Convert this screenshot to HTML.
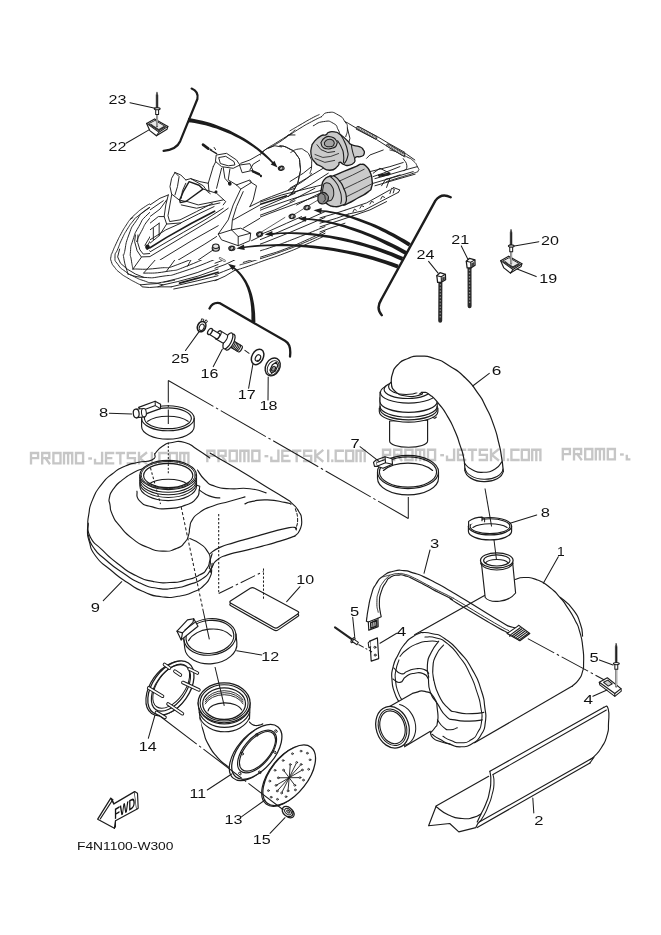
<!DOCTYPE html>
<html><head><meta charset="utf-8"><title>Exhaust diagram</title>
<style>
html,body{margin:0;padding:0;background:#fff;}
body{width:661px;height:935px;overflow:hidden;font-family:"Liberation Sans",sans-serif;}
svg{display:block;}
</style></head><body>
<svg width="661" height="935" viewBox="0 0 661 935"
 stroke="#1c1c1c" fill="none" stroke-linecap="round" stroke-linejoin="round">
<rect x="0" y="0" width="661" height="935" fill="#fff" stroke="none"/>
<clipPath id="notH"><path clip-rule="evenodd" d="M0,0H661V935H0Z M150,150H260V260H150Z"/></clipPath><clipPath id="inH"><rect x="150" y="150" width="110" height="110"/></clipPath>
<g clip-path="url(#notH)">
<g transform="translate(108,185) scale(0.16642)" ><path d="M362.0,68.0C348.0,73.7 350.7,72.7 320.0,85.0C289.3,97.3 305.0,88.3 270.0,105.0C235.0,121.7 250.0,111.7 215.0,135.0C180.0,158.3 191.7,151.7 165.0,175.0C138.3,198.3 153.3,183.3 135.0,205.0C116.7,226.7 128.3,211.7 110.0,240.0C91.7,268.3 100.0,253.3 80.0,290.0C60.0,326.7 67.3,313.3 50.0,350.0C32.7,386.7 38.7,373.3 28.0,400.0C17.3,426.7 20.7,410.0 18.0,430.0C15.3,450.0 12.7,438.3 20.0,460.0C27.3,481.7 21.7,471.7 40.0,495.0C58.3,518.3 48.3,508.3 75.0,530.0C101.7,551.7 90.0,541.7 120.0,560.0C150.0,578.3 140.0,571.7 165.0,585.0C190.0,598.3 185.0,595.0 195.0,600.0" stroke-width="5.71"/><path d="M195,600L205,612L250,616L300,612L332,600L300,592L240,596L195,600" stroke-width="5.71"/><path d="M345.0,85.0C320.0,97.3 325.0,88.0 270.0,122.0C215.0,156.0 220.0,155.3 180.0,187.0C140.0,218.7 171.7,190.3 150.0,217.0C128.3,243.7 136.7,232.0 115.0,267.0C93.3,302.0 103.3,283.7 85.0,322.0C66.7,360.3 74.3,345.3 60.0,382.0C45.7,418.7 42.0,400.0 42.0,432.0C42.0,464.0 39.0,448.7 60.0,478.0C81.0,507.3 71.7,495.3 105.0,520.0C138.3,544.7 123.3,533.7 160.0,552.0C196.7,570.3 178.3,563.0 215.0,575.0C251.7,587.0 230.0,585.3 270.0,588.0C310.0,590.7 291.7,588.3 335.0,583.0C378.3,577.7 378.3,575.7 400.0,572.0" stroke-width="5.71"/><path d="M150,195L135,205" stroke-width="5.71"/><path d="M70,385L58,432L75,470L115,505L165,535L215,555" stroke-width="5.71"/><path d="M330.0,95.0C296.7,113.3 283.3,110.0 230.0,150.0C176.7,190.0 205.0,165.0 170.0,215.0C135.0,265.0 148.3,238.3 125.0,300.0C101.7,361.7 110.0,353.3 100.0,400.0C90.0,446.7 88.3,395.0 95.0,440.0C101.7,485.0 111.7,503.3 120.0,535.0" stroke-width="5.71"/><path d="M335.0,105.0C303.3,128.3 290.0,126.7 240.0,175.0C190.0,223.3 215.0,198.3 185.0,250.0C155.0,301.7 166.7,280.0 150.0,330.0C133.3,380.0 138.3,360.0 135.0,400.0C131.7,440.0 135.0,415.0 140.0,450.0C145.0,485.0 146.7,486.7 150.0,505.0" stroke-width="5.71"/><path d="M330.0,120.0C303.3,146.7 293.3,146.7 250.0,200.0C206.7,253.3 226.0,233.3 200.0,280.0C174.0,326.7 181.3,320.0 172.0,340.0" stroke-width="5.71"/><path d="M165,300L160,340L175,395L200,432L330,428L420,425" stroke-width="5.71"/><path d="M180,300L178,345L192,390L212,415L330,405L350,398" stroke-width="5.71"/><path d="M200,435L150,505" stroke-width="5.71"/><path d="M300,432L215,528" stroke-width="5.71"/><path d="M418,428L350,520" stroke-width="5.71"/><path d="M510,430L478,488" stroke-width="5.71"/><path d="M150.0,505.0C200.0,503.3 203.3,511.7 300.0,500.0C396.7,488.3 319.7,515.0 440.0,470.0C560.3,425.0 587.3,400.0 661.0,365.0" stroke-width="5.71"/><path d="M215.0,530.0C260.0,526.7 261.7,535.0 350.0,520.0C438.3,505.0 376.3,525.0 480.0,485.0C583.7,445.0 600.7,428.3 661.0,400.0" stroke-width="5.71"/><path d="M120.0,535.0C151.7,541.7 145.0,550.7 215.0,555.0C285.0,559.3 251.7,559.7 330.0,548.0C408.3,536.3 339.7,556.0 450.0,520.0C560.3,484.0 590.7,466.7 661.0,440.0" stroke-width="5.71"/><path d="M335,583L420,562L540,525L661,478" stroke-width="5.71"/><path d="M332,600L420,580L540,548L661,505" stroke-width="5.71"/><path d="M430,590L540,560L661,524" stroke-width="10.22"/><path d="M380,612L430,600L540,575L661,545" stroke-width="5.71"/><path d="M300,612L380,612" stroke-width="5.71"/><path d="M395,625L520,600L661,568" stroke-width="5.71"/><path d="M235,385L300,345L430,275L540,215L600,180L640,160" stroke-width="10.82"/><path d="M250,395L330,352L450,290L560,232L661,180" stroke-width="5.71"/><path d="M330,428L450,362L560,305L661,255" stroke-width="5.71"/><path d="M420,425L520,372L661,300" stroke-width="5.71"/><path d="M222,362L262,295L290,250L330,195L340,150" stroke-width="5.71"/><path d="M238,362L275,300L300,262" stroke-width="5.71"/><path d="M268,290L300,300L345,285" stroke-width="5.71"/><path d="M285,262L315,272L348,258" stroke-width="5.71"/><path d="M315,225L318,272" stroke-width="5.71"/><path d="M300,235L302,282" stroke-width="5.71"/><path d="M340,150L338,190L350,215L400,210L440,195L475,185L560,160L661,128" stroke-width="5.71"/><path d="M350,226L400,221L440,206L480,192" stroke-width="9.61"/><path d="M350,238L440,218L560,180L661,148" stroke-width="5.71"/><path d="M380,0L365,50L355,75L362,68" stroke-width="5.71"/><path d="M400,5L375,80L365,140L440,100L520,40L560,10" stroke-width="5.71"/><path d="M420,40L400,100L440,105L520,55L580,20" stroke-width="5.71"/><path d="M365,140L350,215" stroke-width="5.71"/><path d="M440,105L430,150L520,120L600,85L661,60" stroke-width="5.71"/><path d="M375,160L440,185" stroke-width="5.71"/></g>
</g>
<circle cx="147.4" cy="246.9" r="2.3" fill="#1c1c1c" stroke="none"/>
<g clip-path="url(#notH)">
<g transform="translate(215,185) scale(0.16642)" ><path d="M0,575L60,548L115,515" stroke-width="5.71"/><path d="M0,540L50,520L100,500" stroke-width="5.71"/><path d="M115.0,515.0C143.3,506.0 138.3,509.0 200.0,488.0C261.7,467.0 226.7,478.0 300.0,452.0C373.3,426.0 340.0,440.7 420.0,410.0C500.0,379.3 459.7,395.0 540.0,360.0C620.3,325.0 620.7,323.3 661.0,305.0" stroke-width="5.71"/><path d="M150.0,480.0C183.3,470.0 166.7,476.7 250.0,450.0C333.3,423.3 303.3,435.0 400.0,400.0C496.7,365.0 453.0,381.7 540.0,345.0C627.0,308.3 620.7,308.3 661.0,290.0" stroke-width="5.71"/><path d="M170.0,465.0C213.3,451.7 216.7,451.7 300.0,425.0C383.3,398.3 340.0,415.0 420.0,385.0C500.0,355.0 459.7,370.7 540.0,335.0C620.3,299.3 620.7,297.0 661.0,278.0" stroke-width="5.71"/><path d="M130.0,440.0C170.0,427.3 176.7,425.3 250.0,402.0C323.3,378.7 273.3,396.7 350.0,370.0C426.7,343.3 376.3,362.0 480.0,322.0C583.7,282.0 600.7,274.0 661.0,250.0" stroke-width="5.71"/><path d="M0,500L60,478L130,445" stroke-width="5.71"/><path d="M0,470L40,455" stroke-width="5.71"/><path d="M130,0L80,230L15,295L30,330L130,350L215,320L215,280L150,255L100,260L95,235L150,40L165,0" stroke-width="5.71"/><path d="M15,295L100,260" stroke-width="5.71"/><path d="M130,350L130,300L100,260" stroke-width="5.71"/><path d="M215,280L130,300" stroke-width="5.71"/><path d="M225,0L205,120L175,190" stroke-width="5.71"/><path d="M245,0L225,110L200,165" stroke-width="5.71"/><path d="M245,125L330,98L430,65" stroke-width="9.01"/><path d="M250,110L400,60L560,20L661,-5" stroke-width="5.71"/><path d="M180,190L300,140L460,85L661,25" stroke-width="5.71"/><path d="M215,215L330,170L470,118L661,50" stroke-width="5.71"/><path d="M215,320L330,275L430,230L520,190" stroke-width="5.71"/><path d="M230,345L330,305L470,245L661,160" stroke-width="5.71"/><path d="M160,395L300,345L450,285L661,195" stroke-width="5.71"/><path d="M0,380L90,355" stroke-width="5.71"/><path d="M280,282L420,195" stroke-width="4.21"/><path d="M475,178L560,125" stroke-width="4.21"/><path d="M565,122L650,72" stroke-width="4.21"/><path d="M115,368L250,300" stroke-width="4.21"/><path d="M0,425L60,405L100,398" stroke-width="5.71"/><path d="M0,240L60,200L100,120L120,40" stroke-width="5.71"/><path d="M0,300L15,295" stroke-width="5.71"/></g>
</g>
<ellipse cx="259.1" cy="234.1" rx="2.6" ry="2.08" fill="#bdbdbd" stroke-width="1.03" transform="rotate(-25 259.1 234.1)"/>
<ellipse cx="260.0" cy="234.8" rx="2.6" ry="2.08" fill="none" stroke-width="0.92" transform="rotate(-25 259.1 234.1)"/>
<ellipse cx="231.3" cy="248.2" rx="2.6" ry="2.08" fill="#bdbdbd" stroke-width="1.03" transform="rotate(-25 231.3 248.2)"/>
<ellipse cx="232.2" cy="248.9" rx="2.6" ry="2.08" fill="none" stroke-width="0.92" transform="rotate(-25 231.3 248.2)"/>
<ellipse cx="291.6" cy="216.3" rx="2.6" ry="2.08" fill="#bdbdbd" stroke-width="1.03" transform="rotate(-25 291.6 216.3)"/>
<ellipse cx="292.5" cy="217.0" rx="2.6" ry="2.08" fill="none" stroke-width="0.92" transform="rotate(-25 291.6 216.3)"/>
<ellipse cx="306.5" cy="207.5" rx="2.6" ry="2.08" fill="#bdbdbd" stroke-width="1.03" transform="rotate(-25 306.5 207.5)"/>
<ellipse cx="307.4" cy="208.2" rx="2.6" ry="2.08" fill="none" stroke-width="0.92" transform="rotate(-25 306.5 207.5)"/>
<path d="M220.0,258.2l4.5,2.6" stroke-width="2.40" stroke="#555"/>
<path d="M220.0,258.2l4.5,2.6" stroke-width="1.26" stroke="#ddd"/>
<ellipse cx="215.8" cy="248.2" rx="3.6" ry="3" fill="#c4c4c4" stroke-width="1.15"/>
<ellipse cx="215.8" cy="246.2" rx="3.2" ry="2.2" fill="#e4e4e4" stroke-width="1.03"/>
<g transform="translate(320,150) scale(0.16642)" ><path d="M420.0,0.0C436.7,5.0 436.7,1.7 470.0,15.0C503.3,28.3 490.0,23.3 520.0,40.0C550.0,56.7 538.3,45.0 560.0,65.0C581.7,85.0 575.0,80.0 585.0,100.0C595.0,120.0 598.3,111.7 590.0,125.0C581.7,138.3 596.7,126.7 560.0,140.0C523.3,153.3 533.3,148.3 480.0,165.0C426.7,181.7 426.7,181.7 400.0,190.0" stroke-width="5.71"/><path d="M500.0,52.0C507.3,66.3 520.3,70.7 522.0,95.0C523.7,119.3 510.7,115.0 505.0,125.0" stroke-width="5.71"/><path d="M300,130L420,100L500,75" stroke-width="5.71"/><path d="M330,172L420,147L540,112L585,100" stroke-width="5.71"/><path d="M320,200L440,165L560,130" stroke-width="5.71"/><path d="M330,215L450,180L572,145" stroke-width="5.71"/><path d="M370,215L395,175L420,170L400,225" stroke-width="5.71"/><path d="M420,262L430,230L447,236L440,258" stroke-width="5.71"/><path d="M470,255L480,240L440,225" stroke-width="5.71"/><path d="M170,385L260,365L360,312L470,255" stroke-width="5.71"/><path d="M150,362L280,318L420,240" stroke-width="5.71"/><path d="M190,398L300,360L400,310" stroke-width="5.71"/><path d="M365,295L375,278L388,285" stroke-width="5.71"/><path d="M300,325L310,308L322,314" stroke-width="5.71"/><path d="M240,350L250,334L262,340" stroke-width="5.71"/><path d="M198,372L207,355L218,362" stroke-width="5.71"/><path d="M0,440L100,410L170,385" stroke-width="5.71"/><path d="M0,462L120,422L200,395" stroke-width="5.71"/><path d="M0,492L60,470L150,440" stroke-width="5.71"/><path d="M0,408L80,385L150,362" stroke-width="5.71"/><path d="M460,0L520,25L570,60" stroke-width="5.71"/><path d="M380,0L300,30L280,50" stroke-width="5.71"/><path d="M352,152L420,140" stroke-width="8.41"/><path d="M356,158L416,147" stroke-width="8.41"/></g>
<g clip-path="url(#notH)">
<g transform="translate(185,110) scale(0.16642)" ><path d="M108,208L140,232" stroke-width="15.62"/><path d="M150,235L190,260" stroke-width="7.21"/><path d="M190,255L240,245L300,285L330,310L320,340L260,350L200,330L175,290Z" stroke-width="5.71"/><path d="M205,275L245,265L295,300L300,325L255,330L210,312Z" stroke-width="5.71"/><path d="M325,340L380,330L395,370L340,385Z" stroke-width="5.71"/><path d="M398,372L455,396" stroke-width="15.62"/><path d="M160,250L175,290" stroke-width="5.71"/><path d="M175,225L195,255" stroke-width="5.71"/><path d="M185,330L215,400" stroke-width="5.71"/><path d="M230,345L245,400" stroke-width="5.71"/><path d="M205,335L165,380L130,500" stroke-width="5.71"/><path d="M262,352L275,440" stroke-width="5.71"/><path d="M290,345L320,430" stroke-width="5.71"/><path d="M0,420L100,375L170,365" stroke-width="5.71"/><path d="M0,440L60,420L110,440L135,500" stroke-width="5.71"/><path d="M160,370L200,400L260,405L290,440L330,470L420,430" stroke-width="5.71"/><path d="M330,470L300,560L260,661" stroke-width="5.71"/><path d="M420,430L400,560L380,661" stroke-width="5.71"/><path d="M300,440L330,420L400,420" stroke-width="5.71"/><path d="M0,540L100,500L140,500L260,430" stroke-width="5.71"/><path d="M0,600L60,570L160,520L280,440" stroke-width="5.71"/><path d="M100,661L180,600L260,540L300,560" stroke-width="5.71"/><path d="M0,480L40,470L90,500L60,570" stroke-width="5.71"/><path d="M30,661L120,590L200,540" stroke-width="5.71"/><path d="M345,480L320,570L290,661" stroke-width="5.71"/><path d="M440.0,300.0C450.0,283.3 440.0,278.3 470.0,250.0C500.0,221.7 486.7,241.7 530.0,215.0C573.3,188.3 556.3,201.7 600.0,170.0C643.7,138.3 640.7,136.7 661.0,120.0" stroke-width="5.71"/><path d="M330.0,325.0C353.3,316.7 350.0,328.3 400.0,300.0C450.0,271.7 426.7,276.7 480.0,240.0C533.3,203.3 506.7,223.3 560.0,190.0C613.3,156.7 613.3,156.7 640.0,140.0" stroke-width="5.71"/><path d="M571.0,215.0C587.7,220.0 587.7,211.7 621.0,230.0C654.3,248.3 647.7,236.7 671.0,270.0C694.3,303.3 686.0,286.7 691.0,330.0C696.0,373.3 696.0,353.3 686.0,400.0C676.0,446.7 682.7,430.0 661.0,470.0C639.3,510.0 634.3,503.3 621.0,520.0" stroke-width="5.71"/><path d="M500,228L540,215L580,222" stroke-width="5.71"/><path d="M420,560L520,520L600,490L661,470" stroke-width="5.71"/><path d="M380,620L500,570L661,500" stroke-width="5.71"/><path d="M430,640L540,600L661,545" stroke-width="5.71"/><path d="M440,300L420,360L425,430" stroke-width="5.71"/><path d="M600,170L620,150L661,150" stroke-width="5.71"/></g>
</g>
<ellipse cx="280.7" cy="168.2" rx="2.4" ry="1.92" fill="#bdbdbd" stroke-width="1.03" transform="rotate(-25 280.7 168.2)"/>
<ellipse cx="281.6" cy="168.9" rx="2.4" ry="1.92" fill="none" stroke-width="0.92" transform="rotate(-25 280.7 168.2)"/>
<circle cx="215.8" cy="192.0" r="1.3" fill="#1c1c1c" stroke="none"/>
<circle cx="229.6" cy="183.2" r="1.6" fill="#1c1c1c" stroke="none"/>
<g transform="translate(290,95) scale(0.16642)" ><path d="M190.0,130.0C203.3,121.7 196.7,108.3 230.0,105.0C263.3,101.7 256.7,101.7 290.0,120.0C323.3,138.3 311.7,133.3 330.0,160.0C348.3,186.7 343.3,170.0 345.0,200.0C346.7,230.0 338.3,233.3 335.0,250.0" stroke-width="5.71"/><path d="M140.0,185.0C160.0,176.7 160.0,165.0 200.0,160.0C240.0,155.0 230.0,153.3 260.0,170.0C290.0,186.7 276.7,186.7 290.0,210.0C303.3,233.3 296.7,230.0 300.0,240.0" stroke-width="5.71"/><path d="M0.0,240.0C20.0,226.7 16.7,226.7 60.0,200.0C103.3,173.3 86.7,183.3 130.0,160.0C173.3,136.7 170.0,140.0 190.0,130.0" stroke-width="5.71"/><path d="M0.0,215.0C20.0,203.3 16.7,205.0 60.0,180.0C103.3,155.0 91.7,160.7 130.0,140.0C168.3,119.3 160.0,125.3 175.0,118.0" stroke-width="5.71"/><path d="M-60.0,305.0C-43.3,310.0 -43.3,301.7 -10.0,320.0C23.3,338.3 16.7,326.7 40.0,360.0C63.3,393.3 55.0,376.7 60.0,420.0C65.0,463.3 65.0,443.3 55.0,490.0C45.0,536.7 51.7,520.0 30.0,560.0C8.3,600.0 3.3,593.3 -10.0,610.0" stroke-width="5.71"/><path d="M5.0,345.0C20.0,338.3 21.7,328.3 50.0,325.0C78.3,321.7 66.7,320.0 90.0,335.0C113.3,350.0 106.7,341.7 120.0,370.0C133.3,398.3 130.0,386.7 130.0,420.0C130.0,453.3 123.3,453.3 120.0,470.0" stroke-width="5.71"/><path d="M-10.0,570.0C23.3,550.0 43.3,543.3 90.0,510.0C136.7,476.7 116.7,483.3 130.0,470.0" stroke-width="5.71"/><path d="M330,160L350,170L400,200" stroke-width="5.71"/><path d="M398,205L520,268L590,312L690,372" stroke-width="5.71"/><path d="M412,190L525,250L595,292L690,345" stroke-width="5.71"/><path d="M661,430L560,470L500,490" stroke-width="5.71"/><path d="M661,480L600,500" stroke-width="5.71"/><path d="M0,560L100,500L200,440" stroke-width="5.71"/><path d="M0,600L120,540L230,470" stroke-width="5.71"/><path d="M0,640L150,560" stroke-width="5.71"/><path d="M0,520L80,470L130,430" stroke-width="5.71"/><path d="M40,661L180,590" stroke-width="5.71"/><path d="M345,200L360,260L350,300" stroke-width="5.71"/><path d="M500,470L540,440L600,470" stroke-width="5.71"/></g>
<path d="M357.9,127.8L375.7,137.6" stroke="#2a2a2a" stroke-width="3.50" stroke-linecap="round"/>
<path d="M357.9,127.8L375.7,137.6" stroke="#d8d8d8" stroke-width="1.70" stroke-linecap="round"/>
<path d="M357.9,127.8L375.7,137.6" stroke="#444" stroke-width="1.70" stroke-dasharray="0.7 1.1" stroke-linecap="butt"/>
<path d="M387.9,145.3L403.5,154.6" stroke="#2a2a2a" stroke-width="3.50" stroke-linecap="round"/>
<path d="M387.9,145.3L403.5,154.6" stroke="#d8d8d8" stroke-width="1.70" stroke-linecap="round"/>
<path d="M387.9,145.3L403.5,154.6" stroke="#444" stroke-width="1.70" stroke-dasharray="0.7 1.1" stroke-linecap="butt"/>
<g clip-path="url(#inH)">
<g transform="translate(150,150) scale(0.16642)" ><path d="M150,135L130,170L120,220L130,265" stroke-width="5.71"/><path d="M150,135L185,150L215,180" stroke-width="5.71"/><path d="M150,135L175,160L165,220L150,270" stroke-width="5.71"/><path d="M215,180L245,172L320,215L345,250L362,262" stroke-width="5.71"/><path d="M130,265L175,300L215,310" stroke-width="5.71"/><path d="M235,190L295,212L318,235L218,308L182,316L178,300L200,250Z" stroke-width="8.41"/><path d="M215,200L195,245L188,290" stroke-width="5.71"/><path d="M110,270L95,330L85,400L100,445L185,438L290,385L385,340" stroke-width="5.71"/><path d="M130,270L108,395L118,430L180,420L280,370L375,320" stroke-width="5.71"/><path d="M218,308L290,330L440,300" stroke-width="5.71"/><path d="M320,235L400,260L455,310L440,330" stroke-width="5.71"/><path d="M188,330L280,350L420,318" stroke-width="5.71"/><path d="M0,330L60,290L110,270" stroke-width="5.71"/><path d="M0,360L80,305" stroke-width="5.71"/><path d="M0,400L60,355L100,300" stroke-width="5.71"/><path d="M0,440L50,400L85,400" stroke-width="5.71"/><path d="M20,470L20,540" stroke-width="5.71"/><path d="M55,440L55,515" stroke-width="5.71"/><path d="M0,480L55,440" stroke-width="5.71"/><path d="M0,560L55,515L100,445" stroke-width="5.71"/><path d="M0,540L95,480L185,440" stroke-width="5.71"/><path d="M0,588L100,525L250,440L388,368" stroke-width="10.22"/><path d="M0,612L200,495L330,420L440,350" stroke-width="5.71"/><path d="M0,640L200,520L400,400L470,350" stroke-width="5.71"/><path d="M60,661L250,545L410,455" stroke-width="5.71"/><path d="M170,661L330,565L400,520" stroke-width="5.71"/><path d="M290,661L380,600" stroke-width="5.71"/><path d="M520,210L545,235L500,330L470,420L410,505L430,540L530,575L600,545L605,500L545,470L490,480L410,505" stroke-width="5.71"/><path d="M545,235L610,195L600,180L520,210" stroke-width="5.71"/><path d="M600,190L640,215L620,300L600,340" stroke-width="5.71"/><path d="M490,480L530,520L530,575" stroke-width="5.71"/><path d="M530,520L605,500" stroke-width="5.71"/><path d="M560,250L520,340L495,420L490,480" stroke-width="5.71"/><path d="M600,340L661,310" stroke-width="5.71"/><path d="M500,420L661,330" stroke-width="5.71"/><path d="M560,470L661,410" stroke-width="5.71"/><path d="M610,545L661,520" stroke-width="5.71"/><path d="M400,30L460,20L520,60L540,90L500,110L430,100L395,70Z" stroke-width="5.71"/><path d="M415,45L455,38L505,70L510,90L470,95L425,82Z" stroke-width="5.71"/><path d="M380,100L350,200L355,250" stroke-width="5.71"/><path d="M430,110L400,230" stroke-width="5.71"/><path d="M395,70L380,100" stroke-width="5.71"/><path d="M480,115L470,180L520,210" stroke-width="5.71"/><path d="M440,105L450,170L480,205" stroke-width="5.71"/><path d="M540,90L600,82L618,122L556,136Z" stroke-width="5.71"/><path d="M618,128L661,148" stroke-width="14.42"/><path d="M350,-8L400,22" stroke-width="7.81"/><path d="M350,200L300,190L245,172" stroke-width="5.71"/><path d="M661,25L600,60L545,80" stroke-width="5.71"/><path d="M661,60L620,85L600,120" stroke-width="5.71"/></g>
</g>
<circle cx="216.1" cy="191.9" r="1.4" fill="#1c1c1c" stroke="none"/>
<circle cx="229.9" cy="184.1" r="1.7" fill="#1c1c1c" stroke="none"/>
<g transform="translate(315,125) scale(0.09833)" ><path d="M0.0,160.0C20.0,143.3 23.3,130.0 60.0,110.0C96.7,90.0 83.3,111.7 110.0,100.0C136.7,88.3 110.0,85.0 140.0,75.0C170.0,65.0 160.0,61.7 200.0,70.0C240.0,78.3 216.7,70.0 260.0,100.0C303.3,130.0 293.3,126.7 330.0,160.0C366.7,193.3 330.0,180.0 370.0,200.0C410.0,220.0 410.0,203.3 450.0,220.0C490.0,236.7 473.3,226.7 490.0,250.0C506.7,273.3 506.7,266.7 500.0,290.0C493.3,313.3 500.0,306.7 470.0,320.0C440.0,333.3 433.3,310.0 410.0,330.0C386.7,350.0 423.3,353.3 400.0,380.0C376.7,406.7 376.7,403.3 340.0,410.0C303.3,416.7 320.0,410.0 290.0,400.0C260.0,390.0 270.0,373.3 250.0,380.0C230.0,386.7 263.3,393.3 230.0,420.0C196.7,446.7 206.7,460.0 150.0,460.0C93.3,460.0 110.0,446.7 60.0,420.0C10.0,393.3 33.3,420.0 0.0,380.0C-33.3,340.0 -30.0,360.0 -40.0,300.0C-50.0,240.0 -33.3,233.3 -30.0,200.0Z" stroke-width="13.22" fill="#cacaca"/><path d="M60.0,180.0C73.3,163.3 66.7,150.0 100.0,130.0C133.3,110.0 123.3,113.3 160.0,120.0C196.7,126.7 190.0,123.3 210.0,150.0C230.0,176.7 230.0,171.7 220.0,200.0C210.0,228.3 216.7,221.7 180.0,235.0C143.3,248.3 146.7,246.7 110.0,240.0C73.3,233.3 83.3,223.3 70.0,215.0Z" stroke-width="11.19" fill="#b9b9b9"/><path d="M95.0,180.0C105.0,170.0 101.7,160.7 125.0,150.0C148.3,139.3 142.7,141.3 165.0,148.0C187.3,154.7 183.7,152.0 192.0,170.0C200.3,188.0 200.7,185.3 190.0,202.0C179.3,218.7 183.3,214.7 160.0,220.0C136.7,225.3 140.7,224.0 120.0,218.0C99.3,212.0 105.3,207.3 98.0,202.0Z" stroke-width="10.17" fill="#a4a4a4"/><path d="M20,200L60,250L130,280L200,270" stroke-width="9.15"/><path d="M260.0,100.0C273.3,123.3 276.7,116.7 300.0,170.0C323.3,223.3 320.0,206.7 330.0,260.0C340.0,313.3 340.0,286.7 330.0,330.0C320.0,373.3 310.0,370.0 300.0,390.0" stroke-width="11.19"/><path d="M230.0,160.0C243.3,183.3 250.0,183.3 270.0,230.0C290.0,276.7 283.3,250.0 290.0,300.0C296.7,350.0 290.0,353.3 290.0,380.0" stroke-width="11.19"/><path d="M370.0,200.0C373.3,220.0 370.0,216.7 380.0,260.0C390.0,303.3 393.3,306.7 400.0,330.0" stroke-width="10.17"/><path d="M0,300L80,330L160,320L240,290" stroke-width="8.14"/><path d="M0,340L100,380L200,360" stroke-width="8.14"/><path d="M70.0,620.0C76.7,600.0 63.3,593.3 90.0,560.0C116.7,526.7 116.7,535.0 150.0,520.0C183.3,505.0 140.0,531.7 190.0,515.0C240.0,498.3 223.3,501.7 300.0,470.0C376.7,438.3 363.3,443.3 420.0,420.0C476.7,396.7 436.7,400.0 470.0,400.0C503.3,400.0 490.0,393.3 520.0,420.0C550.0,446.7 540.0,433.3 560.0,480.0C580.0,526.7 575.0,510.0 580.0,560.0C585.0,610.0 588.3,590.0 575.0,630.0C561.7,670.0 585.0,643.3 540.0,680.0C495.0,716.7 510.0,700.0 440.0,740.0C370.0,780.0 383.3,775.0 330.0,800.0C276.7,825.0 323.3,805.0 280.0,815.0C236.7,825.0 253.3,835.0 200.0,830.0C146.7,825.0 161.7,830.0 120.0,800.0C78.3,770.0 95.0,780.0 75.0,740.0C55.0,700.0 65.0,700.0 60.0,680.0Z" stroke-width="14.24" fill="#cacaca"/><path d="M190.0,515.0C210.0,533.3 215.0,525.0 250.0,570.0C285.0,615.0 272.3,596.7 295.0,650.0C317.7,703.3 312.3,683.3 318.0,730.0C323.7,776.7 321.3,762.7 312.0,790.0C302.7,817.3 297.3,804.7 290.0,812.0" stroke-width="12.20"/><path d="M150.0,520.0C170.0,540.0 176.7,533.3 210.0,580.0C243.3,626.7 230.7,606.7 250.0,660.0C269.3,713.3 264.0,693.3 268.0,740.0C272.0,786.7 264.0,780.0 262.0,800.0" stroke-width="10.17"/><path d="M250,570L380,510L500,450" stroke-width="8.14"/><path d="M295,650L430,585L565,520" stroke-width="8.14"/><path d="M318,730L440,670L575,600" stroke-width="8.14"/><path d="M90.0,600.0C103.3,596.7 103.3,583.3 130.0,590.0C156.7,596.7 150.0,590.0 170.0,620.0C190.0,650.0 186.7,640.0 190.0,680.0C193.3,720.0 193.3,710.0 180.0,740.0C166.7,770.0 173.3,763.3 150.0,770.0C126.7,776.7 131.7,776.7 110.0,760.0C88.3,743.3 95.7,753.3 85.0,720.0C74.3,686.7 80.3,680.0 78.0,660.0Z" stroke-width="10.17" fill="#b4b4b4"/><path d="M30.0,720.0C43.3,710.0 40.0,695.0 70.0,690.0C100.0,685.0 98.3,685.0 120.0,705.0C141.7,725.0 138.3,721.7 135.0,750.0C131.7,778.3 135.0,773.3 110.0,790.0C85.0,806.7 86.7,806.7 60.0,800.0C33.3,793.3 40.0,780.0 30.0,770.0Z" stroke-width="12.20" fill="#8c8c8c"/><path d="M75,700L100,715L105,760L85,785" stroke-width="9.15"/></g>
<g transform="translate(0,0)"><path d="M146.6,123.4L154.6,118.9L167.9,126.4L167,129.3L156.4,135.8L149.8,130.6Z" fill="#fff" stroke-width="1.15"/><path d="M146.6,123.4L158.9,132.2L167.9,126.4M158.9,132.2L156.4,135.8" stroke-width="1.03"/><path d="M148.9,123.6L155,120.4L165.7,126.6L159.2,130.6Z" fill="#e9e9e9" stroke-width="0.92"/><path d="M151,124.6L153.8,126.8L158.8,129.9L164.2,126.8" stroke-width="1.60" stroke="#333"/><path d="M157.05,114L157.05,126.2" stroke-width="2.00" stroke="#333"/><path d="M157.05,114L157.05,126.0" stroke-width="0.92" stroke="#fff"/><path d="M157.05,92.3L157.9,95.5L157.9,107.8L156.2,107.8L156.2,95.5Z" fill="#222" stroke-width="0.57"/><rect x="155.7" y="109" width="2.9" height="5.4" fill="#fff" stroke-width="1.03"/><ellipse cx="157.2" cy="108.7" rx="2.9" ry="1.1" fill="#fff" stroke-width="1.15"/></g>
<g transform="translate(354.05,137.3)"><path d="M146.6,123.4L154.6,118.9L167.9,126.4L167,129.3L156.4,135.8L149.8,130.6Z" fill="#fff" stroke-width="1.15"/><path d="M146.6,123.4L158.9,132.2L167.9,126.4M158.9,132.2L156.4,135.8" stroke-width="1.03"/><path d="M148.9,123.6L155,120.4L165.7,126.6L159.2,130.6Z" fill="#e9e9e9" stroke-width="0.92"/><path d="M151,124.6L153.8,126.8L158.8,129.9L164.2,126.8" stroke-width="1.60" stroke="#333"/><path d="M157.05,114L157.05,126.2" stroke-width="2.00" stroke="#333"/><path d="M157.05,114L157.05,126.0" stroke-width="0.92" stroke="#fff"/><path d="M157.05,92.3L157.9,95.5L157.9,107.8L156.2,107.8L156.2,95.5Z" fill="#222" stroke-width="0.57"/><rect x="155.7" y="109" width="2.9" height="5.4" fill="#fff" stroke-width="1.03"/><ellipse cx="157.2" cy="108.7" rx="2.9" ry="1.1" fill="#fff" stroke-width="1.15"/></g>
<path d="M440.4,283L440.2,320.8" stroke="#2a2a2a" stroke-width="4.00" stroke-linecap="round"/>
<path d="M440.4,284L440.2,318.8" stroke="#8a8a8a" stroke-width="1.26" stroke-dasharray="1.5 1.7" stroke-linecap="butt"/>
<path d="M436.8,275.7L440.0,272.7L445.40000000000003,274.3L445.6,279.7L441.40000000000003,282.3L437.6,282.3Z" fill="#fff" stroke-width="1.26"/>
<path d="M436.8,275.7L441.2,276.7L445.40000000000003,274.3M441.2,276.7L441.40000000000003,282.3" stroke-width="1.03"/>
<path d="M442.40000000000003,277.7L444.40000000000003,276.9L444.40000000000003,279.7L442.40000000000003,280.7Z" fill="#444" stroke-width="0.57"/>
<path d="M469.5,268.5L469.6,306.2" stroke="#2a2a2a" stroke-width="4.00" stroke-linecap="round"/>
<path d="M469.5,269.5L469.6,304.2" stroke="#8a8a8a" stroke-width="1.26" stroke-dasharray="1.5 1.7" stroke-linecap="butt"/>
<path d="M466.3,261.3L469.5,258.3L474.90000000000003,259.90000000000003L475.1,265.3L470.90000000000003,267.90000000000003L467.1,267.90000000000003Z" fill="#fff" stroke-width="1.26"/>
<path d="M466.3,261.3L470.7,262.3L474.90000000000003,259.90000000000003M470.7,262.3L470.90000000000003,267.90000000000003" stroke-width="1.03"/>
<path d="M471.90000000000003,263.3L473.90000000000003,262.5L473.90000000000003,265.3L471.90000000000003,266.3Z" fill="#444" stroke-width="0.57"/>
<ellipse cx="201.6" cy="326.6" rx="4" ry="5.3" transform="rotate(25 201.6 326.6)" fill="#fff" stroke-width="1.60"/>
<ellipse cx="202.0" cy="327.2" rx="2.3" ry="3.3" transform="rotate(25 201.6 326.6)" fill="#fff" stroke-width="1.03"/>
<path d="M201.1,321.1l0.5,-2.3l2.2,0.6l-0.3,2M204.6,322.0l1.3,-2.2l1.6,1.2l-1.2,2" stroke-width="0.92"/>
<path d="M228.46,345.94L238.32,351.87A1.47,3.50 31 0 0 241.93,345.87L232.07,339.94A1.47,3.50 31 0 0 228.46,345.94Z" fill="#fff" stroke-width="1.15"/>
<path d="M231.43,347.61A1.5,3.5 31 0 0 234.93,341.78" stroke-width="1.03"/>
<path d="M232.80,348.43A1.5,3.5 31 0 0 236.30,342.60" stroke-width="1.03"/>
<path d="M234.17,349.26A1.5,3.5 31 0 0 237.67,343.43" stroke-width="1.03"/>
<path d="M235.54,350.08A1.5,3.5 31 0 0 239.05,344.25" stroke-width="1.03"/>
<path d="M236.91,350.90A1.5,3.5 31 0 0 240.42,345.08" stroke-width="1.03"/>
<ellipse cx="230.1" cy="342.2" rx="3.4" ry="8.8" transform="rotate(27 230.1 342.2)" fill="#fff" stroke-width="1.26"/>
<ellipse cx="227.9" cy="340.9" rx="3.4" ry="8.8" transform="rotate(27 227.9 340.9)" fill="#fff" stroke-width="1.26"/>
<path d="M215.91,338.90L222.34,342.76A1.93,4.60 31 0 0 227.08,334.87L220.65,331.01A1.93,4.60 31 0 0 215.91,338.90Z" fill="#fff" stroke-width="1.15"/>
<ellipse cx="218.28" cy="334.96" rx="1.93" ry="4.60" transform="rotate(31 218.28 334.96)" fill="#fff" stroke-width="1.15"/>
<path d="M208.80,334.11L216.52,338.75A1.22,2.90 31 0 0 219.50,333.78L211.79,329.14A1.22,2.90 31 0 0 208.80,334.11Z" fill="#fff" stroke-width="1.15"/>
<ellipse cx="210.30" cy="331.63" rx="1.22" ry="2.90" transform="rotate(31 210.30 331.63)" fill="#fff" stroke-width="1.15"/>
<ellipse cx="209.96" cy="331.46" rx="1.9" ry="3.4" transform="rotate(31 209.96 331.46)" fill="#fff" stroke-width="1.26"/>
<path d="M244.9,350.3L249.1,353.3" stroke-width="1.03" />
<ellipse cx="257.6" cy="356.9" rx="5.6" ry="8.2" transform="rotate(28 257.6 356.9)" fill="#fff" stroke-width="1.49"/>
<ellipse cx="258.4" cy="357.7" rx="2.4" ry="3.5" transform="rotate(28 257.6 356.9)" fill="#fff" stroke-width="1.15"/>
<path d="M257.0,360.5q2.6,0.8 3.6,-1.4" stroke-width="0.92"/>
<ellipse cx="272.7" cy="366.9" rx="7" ry="9.4" transform="rotate(28 272.7 366.9)" fill="#fff" stroke-width="1.38"/>
<ellipse cx="273.5" cy="367.5" rx="5.4" ry="7.6" transform="rotate(28 272.7 366.9)" fill="#fff" stroke-width="0.92"/>
<path d="M275.4,371.0L271.6,373.3L270.0,370.1L272.4,364.7L276.2,362.3L277.8,365.5Z" fill="#fff" stroke-width="1.26"/>
<ellipse cx="274.3" cy="368.1" rx="1.7" ry="2.6" transform="rotate(28 272.7 366.9)" fill="#999" stroke-width="1.03"/>
<path d="M141.6,418.3A26.3,12.5 0 0 1 194.20000000000002,418.3L194.20000000000002,426.6A26.3,12.5 0 0 1 141.6,426.6Z" fill="#fff" stroke-width="1.15"/>
<path d="M141.6,418.3A26.3,12.5 0 0 0 194.20000000000002,418.3" stroke-width="1.15"/>
<ellipse cx="167.9" cy="418.3" rx="23.5" ry="10.4" fill="#fff" stroke-width="1.15"/>
<path d="M147.7,421.3A23.5,10.4 0 0 1 188.1,421.3" stroke-width="1.15"/>
<path d="M138.6,407.4L155.1,401.2L160.6,404.2L160.4,408.6L144.4,414.4Z" fill="#fff" stroke-width="1.15"/>
<path d="M155.1,401.2L155.3,405.6L144.2,409.8M155.3,405.6L160.4,408.6" stroke-width="1.03"/>
<path d="M136,409.4L143.6,408.6L144.4,417L136.4,417.8Z" fill="#fff" stroke="none"/>
<path d="M136,409.3L143.8,408.5M136.4,417.8L144.4,416.9" stroke-width="1.15"/>
<ellipse cx="143.9" cy="412.7" rx="2.4" ry="4.2" fill="#fff" stroke-width="1.03" transform="rotate(-6 143.9 412.7)"/>
<ellipse cx="136.2" cy="413.5" rx="2.9" ry="4.3" fill="#fff" stroke-width="1.26" transform="rotate(-6 136.2 413.5)"/>
<path d="M154.9,453.7C157.4,451.2 156.6,449.9 162.4,446.2C168.2,442.5 164.9,443.7 172.4,442.5C179.9,441.3 176.5,440.2 184.8,442.5C193.1,444.8 189.0,444.3 197.3,449.5C205.6,454.7 205.6,455.2 209.8,458.0" stroke-width="1.15" fill="none" />
<path d="M154.9,453.7C153.9,455.8 157.7,457.1 151.9,460.0C146.1,462.9 146.4,460.4 137.4,462.5C128.4,464.6 133.2,462.5 124.9,466.2C116.6,469.9 120.4,467.5 112.5,473.7C104.6,479.9 107.9,476.2 101.2,484.9C94.5,493.6 96.7,489.9 92.5,499.9C88.3,509.9 90.3,506.2 88.7,514.9C87.1,523.6 88.1,519.9 87.7,526.1C87.3,532.3 87.6,531.1 87.5,533.6" stroke-width="1.15" fill="none" />
<path d="M210.0,453.0C212.5,454.5 206.6,451.2 217.4,457.5C228.2,463.8 225.7,462.0 242.4,472.0C259.1,482.0 253.3,478.9 267.4,487.5C281.5,496.1 276.5,492.5 284.8,497.9C293.1,503.3 287.7,499.3 292.3,503.7C296.9,508.1 295.5,505.8 298.6,511.2C301.7,516.6 301.2,513.7 301.6,519.9C302.0,526.1 302.1,524.5 299.8,529.9C297.5,535.3 296.5,534.0 294.8,536.1" stroke-width="1.15" fill="none" />
<path d="M294.8,536.1C289.8,537.8 290.7,537.8 279.9,541.1C269.1,544.4 274.9,542.8 262.4,546.1C249.9,549.4 254.1,548.2 242.4,551.1C230.7,554.0 235.7,552.0 227.4,554.9C219.1,557.8 222.4,556.1 217.4,559.8C212.4,563.5 214.9,561.9 212.5,566.1C210.1,570.3 211.0,570.2 210.2,572.3" stroke-width="1.15" fill="none" />
<path d="M295.3,508.7C296.1,512.3 297.5,512.7 297.6,519.4C297.7,526.1 296.3,525.7 295.6,528.9" stroke-width="1.03" fill="none" stroke-dasharray="3 2"/>
<path d="M88.2,523.2C88.9,527.8 85.7,528.1 90.3,536.9C94.9,545.7 92.4,540.5 101.9,549.7C111.4,558.9 107.6,555.9 118.9,564.5C130.2,573.1 124.5,569.9 135.8,575.5C147.1,581.1 141.5,579.1 152.8,581.4C164.1,583.7 159.1,582.8 169.7,582.5C180.3,582.2 174.7,582.9 184.6,580.4C194.5,577.9 192.0,579.0 199.4,575.1C206.8,571.2 203.3,573.6 206.8,568.7C210.3,563.8 208.2,565.2 210.0,560.3C211.8,555.4 211.4,556.0 212.1,553.9" stroke-width="1.15" fill="none" />
<path d="M88.2,534.8C90.0,539.0 87.5,539.0 93.5,547.5C99.5,556.0 96.3,551.8 106.2,560.3C116.1,568.8 111.8,565.4 123.1,573.0C134.4,580.6 128.8,578.0 140.1,583.1C151.4,588.2 145.7,586.5 157.0,588.2C168.3,589.9 163.4,589.4 174.0,588.2C184.6,587.0 179.6,587.6 188.8,584.6C198.0,581.6 194.4,583.9 201.5,579.3C208.6,574.7 206.5,576.1 210.0,570.8C213.5,565.5 211.4,565.9 212.1,563.4" stroke-width="1.15" fill="none" />
<path d="M87.5,532.7C88.1,535.5 86.5,533.4 89.2,541.2C91.9,549.0 88.5,546.5 95.6,556.0C102.7,565.5 99.8,561.0 110.4,569.8C121.0,578.6 116.1,575.1 127.4,582.5C138.7,589.9 133.0,587.3 144.3,592.0C155.6,596.7 150.0,595.3 161.3,596.7C172.6,598.1 167.6,597.9 178.2,596.3C188.8,594.7 184.6,595.5 193.1,592.0C201.6,588.5 198.0,590.6 203.6,585.7C209.2,580.8 207.3,582.5 210.0,577.2C212.7,571.9 211.1,572.3 211.7,569.8" stroke-width="1.15" fill="none" />
<path d="M142.4,468.7C139.5,470.0 140.4,468.8 133.7,472.5C127.0,476.2 129.1,474.5 122.4,479.9C115.7,485.3 118.0,482.9 113.7,488.7C109.4,494.5 110.7,492.0 109.5,497.4C108.3,502.8 109.0,499.1 110.0,504.9C111.0,510.7 109.2,507.8 112.5,514.9C115.8,522.0 113.3,518.2 119.9,526.1C126.5,534.0 123.2,531.5 132.4,538.6C141.6,545.7 137.4,543.1 147.4,547.3C157.4,551.5 152.8,550.7 162.4,551.1C172.0,551.5 168.6,551.5 176.1,548.6C183.6,545.7 180.6,546.9 184.8,542.3C189.0,537.7 186.9,539.9 188.6,534.9C190.3,529.9 188.6,532.4 189.8,527.4C191.0,522.4 189.0,524.9 192.3,519.9C195.6,514.9 193.1,517.0 199.8,512.4C206.5,507.8 202.3,509.9 212.3,506.2C222.3,502.5 218.9,504.3 229.8,501.2C240.7,498.1 239.9,498.3 245.0,496.9" stroke-width="1.15" fill="none" />
<path d="M244.9,503.9C247.4,503.1 244.9,502.7 252.4,501.4C259.9,500.1 256.6,499.6 267.4,499.9C278.2,500.2 276.9,501.0 284.8,502.4C292.7,503.8 289.0,503.6 291.1,504.2" stroke-width="1.15" fill="none" />
<path d="M197.5,470.0C200.0,473.3 199.2,474.6 205.0,480.0C210.8,485.4 206.6,483.3 214.9,486.2C223.2,489.1 218.2,487.9 229.9,488.7C241.6,489.5 237.8,487.3 249.9,488.7C262.0,490.1 260.7,491.5 266.1,492.9" stroke-width="1.15" fill="none" />
<path d="M210.0,553.6C213.3,551.5 211.6,551.1 219.9,547.4C228.2,543.7 224.1,545.7 234.9,542.4C245.7,539.1 240.7,540.7 252.4,537.4C264.1,534.1 259.1,535.3 269.9,532.4C280.7,529.5 276.7,530.3 284.8,528.6C292.9,526.9 290.5,527.0 294.3,527.4C298.1,527.8 295.6,529.1 296.3,529.9" stroke-width="1.15" fill="none" />
<path d="M189.8,538.6C193.1,540.3 194.0,539.4 199.8,543.6C205.6,547.8 203.8,545.7 207.3,551.1C210.8,556.5 209.6,554.0 210.3,559.8C211.0,565.6 209.6,565.7 209.3,568.6" stroke-width="1.15" fill="none" />
<path d="M136.9,491.2C137.9,494.5 134.7,496.0 139.9,501.2C145.1,506.4 143.2,504.4 152.4,506.9C161.6,509.4 156.6,509.1 167.4,508.6C178.2,508.1 175.2,508.7 184.8,505.4C194.4,502.1 191.3,503.9 196.1,498.7C200.9,493.5 198.2,492.8 199.3,489.9" stroke-width="1.15" fill="none" />
<path d="M199.3,489.9C201.1,491.2 200.5,491.4 204.8,493.7C209.1,496.0 207.3,495.5 212.3,496.9C217.3,498.3 217.3,497.6 219.8,497.9" stroke-width="1.15" fill="none" />
<path d="M139.89999999999998,475A28.3,14.6 0 0 1 196.5,475L196.5,486A28.3,14.6 0 0 1 139.89999999999998,486Z" fill="#fff" stroke-width="1.15"/>
<path d="M139.89999999999998,475A28.3,14.6 0 0 0 196.5,475" stroke-width="1.15"/>
<path d="M139.89999999999998,477.6A28.3,14.6 0 0 0 196.5,477.6" stroke-width="1.03"/>
<path d="M139.89999999999998,480.2A28.3,14.6 0 0 0 196.5,480.2" stroke-width="1.03"/>
<path d="M139.89999999999998,482.8A28.3,14.6 0 0 0 196.5,482.8" stroke-width="1.03"/>
<ellipse cx="168.2" cy="475" rx="27.0" ry="13.6" stroke-width="0.92"/>
<ellipse cx="168.2" cy="475.5" rx="24.6" ry="12.2" fill="#fff" stroke-width="1.15"/>
<path d="M148.8,484.2A22.6,10.2 0 0 1 187.6,484.2" stroke-width="1.15"/>
<path d="M196.1,484.9L199.8,486.2L199.3,489.9" stroke-width="1.03" fill="none" />
<path d="M230.9,605.8Q228.7,604.6 230.8,603.3L250.3,590.9Q252.4,589.6 254.6,590.8L297.6,613.9Q299.8,615.1 297.7,616.5L278.2,629.9Q276.1,631.3 273.9,630.1Z" fill="#fff" stroke-width="1.15"/>
<path d="M230.9,603.2Q228.7,602.0 230.8,600.7L250.3,588.3Q252.4,587.0 254.6,588.2L297.6,611.3Q299.8,612.5 297.7,613.9L278.2,627.3Q276.1,628.7 273.9,627.5Z" fill="#fff" stroke-width="1.15"/>
<g transform="rotate(-6 209.9 636.9)"><path d="M183.70000000000002,636.9A26.2,18.2 0 0 1 236.1,636.9L236.1,645.6A26.2,18.2 0 0 1 183.70000000000002,645.6Z" fill="#fff" stroke-width="1.15"/><path d="M183.70000000000002,636.9A26.2,18.2 0 0 0 236.1,636.9" stroke-width="1.15"/><ellipse cx="209.9" cy="636.9" rx="24.0" ry="16.439999999999998" fill="#fff" stroke-width="1.15"/><path d="M188.3,638.4A24.0,16.439999999999998 0 0 1 231.5,638.4" stroke-width="1.15"/></g>
<path d="M177.0,631.2L187.5,619.9L193.7,618.7L198.0,626.2L188.7,633.7L181.2,639.9Z" stroke-width="1.15" fill="#fff" />
<path d="M177.0,631.2L182.5,632.9L193.0,622.4L193.7,618.7" stroke-width="1.15" fill="none" />
<path d="M182.5,632.9L181.2,639.9" stroke-width="1.15" fill="none" />
<path d="M185.0,629.9L195.0,622.4" stroke-width="1.03" fill="none" />
<path d="M389.6,421L389.6,441A19,6.3 0 0 0 427.6,441L427.6,420Z" fill="#fff" stroke-width="1.15"/>
<path d="M379.3,411.5A29.3,10.6 0 0 0 437.90000000000003,411.5L437.90000000000003,408L379.3,408Z" fill="#fff" stroke-width="1.15"/>
<path d="M380.0,398L380.0,409A28.6,10.8 0 0 0 437.20000000000005,409L437.20000000000005,400A28.6,10.8 0 0 0 380.0,398Z" fill="#fff" stroke-width="1.15"/>
<path d="M380.0,406.3A28.6,10.8 0 0 0 437.2,406.3" fill="none" stroke-width="1.15"/>
<path d="M380.0,392L380.0,401.5A28.6,10.8 0 0 0 437.20000000000005,401.5L437.20000000000005,396Z" fill="#fff" stroke-width="1.15"/>
<ellipse cx="408.6" cy="392.5" rx="28.2" ry="10.6" fill="#fff" stroke-width="1.15"/>
<ellipse cx="407.6" cy="389.5" rx="23.5" ry="9" fill="#fff" stroke-width="1.15"/>
<ellipse cx="406.1" cy="386.5" rx="17.5" ry="8" fill="#fff" stroke-width="1.15"/>
<path d="M432.6,417.2l2.2,1.2l1.6,-1.4" stroke-width="1.03"/>
<path d="M391.2,382.4C391.6,379.5 390.4,379.5 392.5,373.7C394.6,367.9 392.5,370.0 397.5,365.0C402.5,360.0 399.9,361.6 407.4,358.7C414.9,355.8 410.7,356.2 419.9,356.2C429.1,356.2 424.9,355.4 434.9,358.7C444.9,362.0 439.9,359.9 449.9,366.2C459.9,372.5 455.8,368.8 464.9,377.5C474.0,386.2 470.2,382.4 477.3,392.4C484.4,402.4 480.7,396.6 486.1,407.4C491.5,418.2 489.4,413.2 493.6,424.9C497.8,436.6 495.9,431.6 498.6,442.4C501.3,453.2 500.0,447.7 501.6,457.3C503.2,466.9 502.7,466.6 503.3,471.3L464.9,468.6" fill="none" stroke="none"/>
<path d="M391.2,382.4C391.6,379.5 390.4,379.5 392.5,373.7C394.6,367.9 392.5,370.0 397.5,365.0C402.5,360.0 399.9,361.6 407.4,358.7C414.9,355.8 410.7,356.2 419.9,356.2C429.1,356.2 424.9,355.4 434.9,358.7C444.9,362.0 439.9,359.9 449.9,366.2C459.9,372.5 455.8,368.8 464.9,377.5C474.0,386.2 470.2,382.4 477.3,392.4C484.4,402.4 480.7,396.6 486.1,407.4C491.5,418.2 489.4,413.2 493.6,424.9C497.8,436.6 495.9,431.6 498.6,442.4C501.3,453.2 500.0,447.7 501.6,457.3C503.2,466.9 502.7,466.6 503.3,471.3L464.9,470.1C464.5,465.8 465.3,465.7 463.6,457.3C461.9,448.9 462.8,453.6 459.9,444.9C457.0,436.2 459.1,440.7 454.9,431.1C450.7,421.5 452.8,425.2 447.4,416.1C442.0,407.0 444.4,410.8 438.6,403.7C432.8,396.6 434.9,398.7 429.9,394.9C424.9,391.1 427.0,392.8 423.7,392.4C420.4,392.0 421.2,393.3 419.9,393.7L391.2,382.4Z" fill="#fff" stroke="none"/>
<path d="M391.2,382.4C391.6,379.5 390.4,379.5 392.5,373.7C394.6,367.9 392.5,370.0 397.5,365.0C402.5,360.0 399.9,361.6 407.4,358.7C414.9,355.8 410.7,356.2 419.9,356.2C429.1,356.2 424.9,355.4 434.9,358.7C444.9,362.0 439.9,359.9 449.9,366.2C459.9,372.5 455.8,368.8 464.9,377.5C474.0,386.2 470.2,382.4 477.3,392.4C484.4,402.4 480.7,396.6 486.1,407.4C491.5,418.2 489.4,413.2 493.6,424.9C497.8,436.6 495.9,431.6 498.6,442.4C501.3,453.2 500.0,447.7 501.6,457.3C503.2,466.9 502.7,466.6 503.3,471.3" stroke-width="1.21"/>
<path d="M464.9,470.1C464.5,465.8 465.3,465.7 463.6,457.3C461.9,448.9 462.8,453.6 459.9,444.9C457.0,436.2 459.1,440.7 454.9,431.1C450.7,421.5 452.8,425.2 447.4,416.1C442.0,407.0 444.4,410.8 438.6,403.7C432.8,396.6 434.9,398.7 429.9,394.9C424.9,391.1 427.0,392.8 423.7,392.4C420.4,392.0 421.2,393.3 419.9,393.7" stroke-width="1.21"/>
<path d="M391.2,382.4C392.5,385.3 389.6,386.6 395.0,391.2C400.4,395.8 399.1,395.0 407.4,396.2C415.7,397.4 415.1,396.2 419.9,394.9C424.7,393.6 421.2,393.1 421.9,392.2" stroke-width="1.15" fill="none" />
<path d="M464.4,463.3C467.0,465.5 465.9,466.8 472.3,469.8C478.7,472.8 476.1,472.5 483.6,472.3C491.1,472.1 488.7,472.8 494.8,469.3C500.9,465.8 499.5,464.3 501.8,461.8" stroke-width="1.15" fill="none" />
<path d="M464.8,470A19.3,12 2 0 0 503.3,471" stroke-width="1.21"/>
<path d="M465.1,468.2A19,11.4 2 0 0 503,469" stroke-width="1.03"/>
<path d="M377.5,472A30.5,16.6 0 0 1 438.5,472L438.5,478.2A30.5,16.6 0 0 1 377.5,478.2Z" fill="#fff" stroke-width="1.15"/>
<path d="M377.5,472A30.5,16.6 0 0 0 438.5,472" stroke-width="1.15"/>
<ellipse cx="408" cy="472" rx="28.6" ry="15.175" fill="#fff" stroke-width="1.15"/>
<path d="M383.4,470.5A28.6,15.175 0 0 1 432.6,470.5" stroke-width="1.15"/>
<path d="M375.5,460.3L385.0,456.8L392.0,458.8L392.5,464.3L383.0,468.3L377.0,466.3Z" stroke-width="1.15" fill="#fff" />
<path d="M385.0,456.8L385.5,462.8L392.5,464.3" stroke-width="1.15" fill="none" />
<path d="M385.5,462.8L377.0,466.3" stroke-width="1.15" fill="none" />
<path d="M375.5,460.3L373.5,462.3L374.5,466.3L377.0,466.3" stroke-width="1.15" fill="#fff" />
<path d="M377.5,462.3L384.5,459.8" stroke-width="1.03" fill="none" />
<path d="M468.4,526.2A21.6,8.7 0 0 1 511.6,526.2L511.6,531.2A21.6,8.7 0 0 1 468.4,531.2Z" fill="#fff" stroke-width="1.15"/>
<path d="M468.4,526.2A21.6,8.7 0 0 0 511.6,526.2" stroke-width="1.15"/>
<ellipse cx="490" cy="526.2" rx="19.900000000000002" ry="7.424999999999999" fill="#fff" stroke-width="1.15"/>
<path d="M472.9,527.4A19.900000000000002,7.424999999999999 0 0 1 507.1,527.4" stroke-width="1.15"/>
<path d="M468.6,524.8l0,-3.4q6,-4.2 13.4,-4.2l0,3.6" fill="#fff" stroke-width="1.15"/>
<path d="M482,517.2l2.6,1.2l0,3.4" stroke-width="1.03"/>
<path d="M414.6,634.8L484.5,595.4" stroke-width="1.15" fill="none" />
<path d="M514.9,579.5C518.2,578.8 517.4,577.3 524.9,577.5C532.4,577.7 529.1,576.7 537.4,580.0C545.7,583.3 542.4,581.7 549.9,587.5C557.4,593.3 554.1,590.8 559.9,597.4C565.7,604.0 562.4,599.9 567.4,607.4C572.4,614.9 570.7,611.6 574.9,619.9C579.1,628.2 577.3,623.2 579.9,632.4C582.5,641.6 581.6,637.4 582.8,647.4C584.0,657.4 583.8,654.0 583.6,662.3C583.4,670.6 584.0,666.5 582.3,672.3C580.6,678.1 581.9,675.2 578.6,679.8C575.3,684.4 574.5,684.0 572.4,686.1" stroke-width="1.15" fill="none" />
<path d="M572.4,686.1L474.6,742.8" stroke-width="1.15"/>
<path d="M560.4,597.4C564.6,601.4 566.3,600.6 572.9,609.4C579.5,618.2 577.1,614.8 580.3,623.7C583.5,632.6 581.8,632.0 582.6,636.1" stroke-width="1.15" fill="none" />
<path d="M481.3,562L485.2,597.5C490,603.5 508,603 515.6,593L512.6,562Z" fill="#fff" stroke-width="1.15"/>
<ellipse cx="496.8" cy="560.4" rx="16.3" ry="7.6" fill="#fff" stroke-width="1.26"/>
<path d="M480.6,563.2A16.3,7.6 0 0 0 513,563.2" stroke-width="1.03"/>
<ellipse cx="496.8" cy="560.4" rx="13.2" ry="5.6" stroke-width="1.15"/>
<path d="M485.5,562.8A12,5 0 0 1 508,562.6" stroke-width="1.03"/>
<path d="M421.2,632.5C424.9,632.9 424.5,631.6 432.4,633.7C440.3,635.8 435.7,632.4 444.9,638.7C454.1,645.0 450.7,642.1 459.9,652.5C469.1,662.9 465.3,657.4 472.4,669.9C479.5,682.4 477.0,677.4 481.1,689.9C485.2,702.4 483.4,696.6 484.8,707.4C486.2,718.2 486.5,713.2 485.3,722.3C484.1,731.4 485.4,727.7 481.1,734.8C476.8,741.9 479.1,739.6 472.4,743.6C465.7,747.6 468.6,746.6 461.1,746.8C453.6,747.0 457.0,746.6 449.9,744.1C442.8,741.6 445.9,742.6 439.9,739.3C433.9,736.0 434.6,736.0 431.9,734.3" stroke-width="1.15" fill="none" />
<path d="M424.9,637.0C428.7,637.3 428.7,635.8 436.2,638.0C443.7,640.2 439.7,637.5 447.4,643.7C455.1,649.9 452.1,647.0 459.4,656.7C466.7,666.4 463.6,661.3 469.4,672.9C475.2,684.5 473.0,680.1 476.8,691.6C480.6,703.1 479.2,697.6 480.8,707.4C482.4,717.2 482.6,712.8 481.6,721.1C480.6,729.4 481.3,726.1 477.8,732.3C474.3,738.5 476.7,736.3 471.1,739.8C465.5,743.3 467.8,742.5 461.1,742.8C454.4,743.1 457.2,742.8 451.1,740.6C445.0,738.4 445.6,737.7 442.9,736.3" stroke-width="1.03" fill="none" />
<path d="M421.2,632.5C418.3,634.0 417.8,633.3 412.4,637.0C407.0,640.7 409.8,637.7 405.0,643.7C400.2,649.7 402.0,647.0 398.0,654.9C394.0,662.8 395.0,659.1 393.0,667.4C391.0,675.7 391.5,671.6 392.0,679.9C392.5,688.2 392.2,685.1 394.5,692.4C396.8,699.7 397.5,698.7 399.0,701.9" stroke-width="1.15" fill="none" />
<path d="M399.0,659.9C398.0,663.2 397.2,663.1 396.0,669.9C394.8,676.7 394.8,672.9 395.5,680.4C396.2,687.9 396.0,685.9 398.2,692.4C400.4,698.9 400.7,697.4 402.0,699.9" stroke-width="1.03" fill="none" />
<path d="M393.7,667.9C396.2,669.8 396.6,672.6 401.2,673.7C405.8,674.8 402.5,672.9 407.5,671.2C412.5,669.5 410.4,669.1 416.2,668.7C422.0,668.3 420.7,668.2 424.9,669.9C429.1,671.6 427.4,672.4 428.7,673.7" stroke-width="1.15" fill="none" />
<path d="M393.0,678.9C395.3,680.1 395.6,683.2 400.0,682.4C404.4,681.6 401.2,679.5 406.2,676.4C411.2,673.3 409.1,674.0 414.9,673.2C420.7,672.4 419.2,672.0 423.7,673.9C428.2,675.8 426.8,677.2 428.4,678.9" stroke-width="1.15" fill="none" />
<path d="M438.7,641.2C436.2,645.0 435.0,644.6 431.2,652.5C427.4,660.4 428.2,656.6 427.4,664.9C426.6,673.2 428.3,673.2 428.7,677.4" stroke-width="1.15" fill="none" />
<path d="M443.6,645.0C441.1,648.3 439.8,647.4 436.2,654.9C432.6,662.4 433.7,659.1 432.9,667.4C432.1,675.7 433.4,675.7 433.7,679.9" stroke-width="1.15" fill="none" />
<path d="M433.7,679.9C435.4,684.9 434.1,685.7 438.7,694.9C443.3,704.1 441.2,701.6 447.4,707.4C453.6,713.2 449.1,710.3 457.4,712.4C465.7,714.5 463.6,713.6 472.4,713.6C481.2,713.6 480.0,712.8 483.8,712.4" stroke-width="1.15" fill="none" />
<path d="M428.4,678.9C429.1,683.4 427.4,684.2 430.4,692.4C433.4,700.6 432.2,695.7 437.4,703.6C442.6,711.5 440.3,710.7 446.1,716.1C451.9,721.5 447.0,718.2 454.9,719.9C462.8,721.6 460.8,721.1 469.9,721.1C479.0,721.1 478.2,720.3 482.3,719.9" stroke-width="1.15" fill="none" />
<path d="M400.0,656.4C402.3,654.1 401.2,653.7 407.0,649.5C412.8,645.3 410.2,646.5 417.4,643.7C424.6,640.9 422.0,641.9 428.7,641.2C435.4,640.5 434.5,641.4 437.4,641.5" stroke-width="1.03" fill="none" />
<path d="M416.2,692.4C419.1,692.1 419.0,689.7 424.9,691.4C430.8,693.1 429.7,691.2 433.9,697.4C438.1,703.6 436.2,701.6 437.4,709.9C438.6,718.2 438.2,716.3 437.4,722.3C436.6,728.3 437.2,724.3 434.9,727.8C432.6,731.3 431.9,731.1 430.4,732.8" stroke-width="1.15" fill="none" />
<path d="M437.4,719.9C439.5,722.4 439.4,724.0 443.6,727.3C447.8,730.6 445.3,729.6 449.9,729.8C454.5,730.0 454.9,728.5 457.4,727.8" stroke-width="1.03" fill="none" />
<path d="M430.4,732.8C431.2,734.5 429.9,735.0 432.9,737.8C435.9,740.6 433.7,739.2 439.4,741.3C445.1,743.4 446.4,743.2 449.9,744.1" stroke-width="1.15" fill="none" />
<path d="M388.7,706.9L416.2,692.4L430.4,731.3L404.5,746.8Z" fill="#fff" stroke="none"/>
<path d="M388.7,706.9L412.4,693.4L416.2,692.4" stroke-width="1.15" fill="none" />
<path d="M404.5,746.8L430.4,731.3" stroke-width="1.15" fill="none" />
<ellipse cx="392.5" cy="727.3" rx="16.3" ry="21.2" transform="rotate(-18 392.5 727.3)" fill="#fff" stroke-width="1.26"/>
<ellipse cx="392.5" cy="727.3" rx="13.8" ry="18.6" transform="rotate(-18 392.5 727.3)" fill="#fff" stroke-width="1.03"/>
<ellipse cx="392.5" cy="727.3" rx="12.2" ry="16.8" transform="rotate(-18 392.5 727.3)" fill="#fff" stroke-width="1.15"/>
<path d="M397.0,705.8A16.3,21.2 -18 0 1 401.5,746.7" stroke-width="1.03" transform="translate(2.6,-1.3)"/>
<path d="M366.8,618.2C367.3,614.9 366.8,616.2 368.3,608.4C369.8,600.6 368.8,602.9 371.3,594.8C373.8,586.7 371.9,590.5 375.9,584.2C379.9,577.9 377.6,580.2 383.4,575.9C389.2,571.6 386.5,573.1 393.3,571.3C400.1,569.5 397.3,570.1 403.9,570.6C410.5,571.1 406.5,570.9 413.0,572.9C419.5,574.9 416.0,573.3 423.5,576.6C431.0,579.9 427.5,578.4 435.6,582.7C443.7,587.0 437.8,583.7 447.7,589.5C457.6,595.3 449.2,590.2 465.4,600.0C481.6,609.8 480.6,609.9 496.3,619.0C512.0,628.1 505.1,625.1 512.6,627.2C520.1,629.3 516.8,626.0 518.9,625.4" stroke-width="1.15"/>
<path d="M380.4,613.0C380.1,609.5 379.1,609.5 379.4,602.4C379.7,595.3 379.1,598.4 381.2,591.8C383.3,585.2 382.7,587.5 385.7,582.7C388.7,577.9 386.3,579.9 390.3,577.4C394.3,574.9 392.8,575.6 397.8,575.1C402.8,574.6 399.8,574.4 405.4,575.9C411.0,577.4 407.4,576.3 414.5,579.7C421.6,583.1 418.5,581.7 426.6,586.0C434.7,590.3 430.6,588.3 438.7,592.5C446.8,596.7 444.9,595.2 450.8,598.6C456.7,602.0 442.4,594.1 456.3,602.7C470.2,611.3 475.7,614.5 492.6,624.5C509.5,634.5 501.3,628.7 507.1,632.6C512.9,636.5 509.0,635.1 509.9,636.3" stroke-width="1.15"/>
<path d="M382.7,576.9C385.2,576.3 385.3,576.1 390.3,575.0C395.3,573.9 392.8,573.8 397.8,573.6C402.8,573.4 399.8,573.0 405.4,574.5C411.0,576.0 407.4,574.9 414.5,578.2C421.6,581.5 418.5,580.3 426.6,584.5C434.7,588.7 430.6,586.8 438.7,590.9C446.8,595.0 443.4,593.0 450.8,596.9C458.2,600.8 446.3,594.1 460.8,602.7C475.3,611.3 478.5,613.5 494.4,622.8C510.3,632.1 503.9,628.0 508.6,630.6" stroke-width="0.92"/>
<path d="M378.2,612.2C377.8,608.9 376.7,609.5 376.9,602.4C377.1,595.3 376.7,597.8 378.9,591.0C381.1,584.2 379.9,586.9 383.4,581.9C386.9,576.9 387.5,577.9 389.5,575.9" stroke-width="0.92"/>
<path d="M366.8,618.2L366.4,621.3L368.3,622.0L368.8,630.3L378.2,626.6L377.9,618.2L381.2,616.7L380.4,613.0" stroke-width="1.15" fill="#fff" />
<path d="M370.6,622.8L376.6,620.2L376.9,625.8L370.9,628.4Z" stroke-width="1.38" fill="#e4e4e4" />
<path d="M372.7,622.0L373.0,627.5" stroke-width="1.03" fill="none" />
<path d="M374.8,621.1L375.1,626.6" stroke-width="1.03" fill="none" />
<path d="M368.3,622.0L377.9,618.2" stroke-width="1.03" fill="none" />
<path d="M507.1,633.5L518.9,625.4L529.8,633.5L519.9,640.8Z" stroke-width="1.15" fill="#fff" />
<path d="M510.8,634.6L520.2,627.7" stroke-width="1.15" fill="none" />
<path d="M512.4,635.7L521.9,628.8" stroke-width="1.15" fill="none" />
<path d="M514.0,636.8L523.5,629.9" stroke-width="1.15" fill="none" />
<path d="M515.7,637.9L525.1,631.0" stroke-width="1.15" fill="none" />
<path d="M517.3,639.0L526.8,632.1" stroke-width="1.15" fill="none" />
<path d="M518.9,640.1L528.4,633.2" stroke-width="1.15" fill="none" />
<path d="M369.9,641.1L377.4,637.9L378.7,658.6L371.2,661.1Z" stroke-width="1.15" fill="#fff" />
<path d="M369.9,641.1L368.2,642.9L368.9,647.8L370.7,646.8" stroke-width="1.03" fill="#fff" />
<circle cx="374.9" cy="647.3" r="1" stroke-width="0.92"/>
<circle cx="375.2" cy="655.1" r="1" stroke-width="0.92"/>
<path d="M335.0,627.4L352.0,639.4" stroke-width="2.10" stroke="#222"/>
<ellipse cx="353.0" cy="640.1" rx="1.2" ry="3" transform="rotate(35 353.0 640.1)" fill="#fff" stroke-width="1.15"/>
<path d="M353.8,639.1l4.6,3.2l-1.4,2.4l-4.8,-3.2z" fill="#fff" stroke-width="1.03"/>
<path d="M599.3,682.3L607.3,677.8L621.0,688.6L614.8,693.5Z" stroke-width="1.15" fill="#fff" />
<path d="M599.3,682.3L599.8,684.8L614.8,696.3L614.8,693.5" stroke-width="1.03" fill="none" />
<path d="M614.8,696.3L621.3,691.1L621.0,688.6" stroke-width="1.03" fill="none" />
<path d="M603.6,682.3L607.8,680.1L612.3,683.8L608.3,686.1Z" stroke-width="1.03" fill="#ccc" />
<g transform="translate(459.15,554.9)"><path d="M157.05,114L157.05,131.5" stroke-width="2.00" stroke="#333"/><path d="M157.05,114L157.05,131.3" stroke-width="0.92" stroke="#fff"/><path d="M157.05,88.6L157.9,92L157.9,107.8L156.2,107.8L156.2,92Z" fill="#222" stroke-width="0.57"/><rect x="155.7" y="109" width="2.9" height="5.4" fill="#fff" stroke-width="1.03"/><ellipse cx="157.2" cy="108.7" rx="2.9" ry="1.1" fill="#fff" stroke-width="1.15"/></g>
<path d="M489.9,771.3L604.0,707.2" stroke-width="1.15"/>
<path d="M493.0,774.5L606.4,710.0" stroke-width="1.03"/>
<path d="M604.0,707.2C605.4,707.7 606.7,703.4 608.2,708.8C609.7,714.2 608.9,714.4 608.5,723.3C608.1,732.2 609.3,727.3 607.0,735.4C604.7,743.5 605.8,740.4 601.5,747.5C597.2,754.6 597.8,752.6 594.0,756.6C590.2,760.6 591.3,758.6 590.0,759.6" stroke-width="1.15" fill="none" />
<path d="M592.5,758.1L479.2,822.1" stroke-width="1.15"/>
<path d="M590.0,762.9L477.2,827.6" stroke-width="1.15"/>
<path d="M594.0,757.2L591.9,760.2L590.0,762.9" stroke-width="1.03" fill="none" />
<path d="M489.9,771.3C490.2,774.5 491.0,773.8 490.8,780.8C490.6,787.8 491.0,784.6 489.4,792.2C487.8,799.8 488.9,796.1 486.0,803.5C483.1,810.9 483.7,808.2 480.8,814.4C477.9,820.6 478.4,819.5 477.2,822.1" stroke-width="1.15" fill="none" />
<path d="M493.0,774.5C493.3,777.4 494.3,776.4 494.0,783.1C493.7,789.8 494.0,786.9 492.1,794.5C490.2,802.1 491.3,798.4 488.3,805.8C485.3,813.2 486.4,811.0 483.1,816.7C479.8,822.4 480.0,820.9 478.5,823.0" stroke-width="1.03" fill="none" />
<path d="M436.1,806.0L488.7,776.3" stroke-width="1.15" fill="none" />
<path d="M436.1,806.7C440.3,809.4 439.9,811.0 448.6,814.9C457.3,818.8 453.9,817.7 462.2,818.5C470.5,819.3 467.3,818.9 473.5,817.4C479.7,815.9 478.4,815.1 480.8,814.0" stroke-width="1.15" fill="none" />
<path d="M436.1,806.3L428.6,825.8L449.7,823.5L458.8,831.9L475.8,827.6L478.1,823.0" stroke-width="1.15" fill="none" />
<path d="M201.2,721.1C202.0,724.9 201.2,724.5 203.7,732.4C206.2,740.3 204.0,736.6 208.6,744.9C213.2,753.2 211.1,750.2 217.4,757.3C223.7,764.4 222.2,761.8 227.4,766.1C232.6,770.4 231.1,768.9 232.9,770.3" stroke-width="1.15" fill="none" />
<path d="M249.3,721.9C250.7,723.0 250.3,724.0 253.6,725.1C256.9,726.2 256.2,725.5 259.3,725.1C262.4,724.7 261.6,724.3 262.8,723.9" stroke-width="1.15" fill="none" />
<path d="M198.1,702.9L201.1,720.9A23,17 0 0 0 249.1,720.9L250.1,702.9Z" fill="#fff" stroke="none"/>
<path d="M198.7,707.4A26,20 0 0 0 249.9,707.4" stroke-width="1.03"/>
<path d="M199.3,712.4A26,20 0 0 0 249.6,712.4" stroke-width="1.15"/>
<path d="M199.9,717.9A26,20 0 0 0 249.4,717.9" stroke-width="1.15"/>
<path d="M198.1,702.9L200.3,719.9M250.1,702.9L249.5,718.9" stroke-width="1.15"/>
<ellipse cx="224.1" cy="702.9" rx="26" ry="20" fill="#fff" stroke-width="1.26"/>
<ellipse cx="224.1" cy="702.9" rx="24" ry="18.2" stroke-width="1.03"/>
<ellipse cx="224.1" cy="703.7" rx="21.4" ry="15.8" stroke-width="1.26"/>
<path d="M205.2,699.9A20.4,14.6 0 0 1 243.1,699.9" stroke-width="0.92"/>
<path d="M205.2,701.9A20.4,14.6 0 0 1 243.1,701.9" stroke-width="0.92"/>
<path d="M205.2,703.9A20.4,14.6 0 0 1 243.1,703.9" stroke-width="0.92"/>
<path d="M208.1,710.9A17,9 0 0 1 241.6,709.9" stroke-width="1.15"/>
<ellipse cx="254.4" cy="753.2" rx="32.7" ry="17.6" transform="rotate(-49.6 254.4 753.2)" fill="#fff" stroke-width="1.15"/>
<ellipse cx="256.8" cy="751.8" rx="32.7" ry="17.6" transform="rotate(-49.6 256.8 751.8)" fill="#fff" stroke-width="1.26"/>
<ellipse cx="257.2" cy="751.8" rx="25.6" ry="13.4" transform="rotate(-49.6 256.8 751.8)" stroke-width="1.15"/>
<ellipse cx="257.6" cy="752.0" rx="23.8" ry="12.2" transform="rotate(-49.6 256.8 751.8)" stroke-width="1.15"/>
<ellipse cx="256.8" cy="734.9" rx="1.0" ry="1.5" transform="rotate(-49.6 256.8 734.9)" stroke-width="0.92"/>
<ellipse cx="276.0" cy="731.1" rx="1.0" ry="1.5" transform="rotate(-49.6 276.0 731.1)" stroke-width="0.92"/>
<ellipse cx="274.8" cy="752.3" rx="1.0" ry="1.5" transform="rotate(-49.6 274.8 752.3)" stroke-width="0.92"/>
<ellipse cx="259.8" cy="772.3" rx="1.0" ry="1.5" transform="rotate(-49.6 259.8 772.3)" stroke-width="0.92"/>
<ellipse cx="239.9" cy="773.6" rx="1.0" ry="1.5" transform="rotate(-49.6 239.9 773.6)" stroke-width="0.92"/>
<ellipse cx="242.3" cy="753.6" rx="1.0" ry="1.5" transform="rotate(-49.6 242.3 753.6)" stroke-width="0.92"/>
<ellipse cx="288.0" cy="776.0" rx="35.5" ry="18.6" transform="rotate(-52 288.0 776.0)" fill="#fff" stroke-width="1.15"/>
<ellipse cx="289.2" cy="775.2" rx="35.5" ry="18.6" transform="rotate(-52 289.2 775.2)" fill="#fff" stroke-width="1.26"/>
<path d="M289.2,777.7L301.1,764.4" stroke-width="0.92"/>
<circle cx="301.1" cy="764.4" r="0.9" fill="#fff" stroke-width="0.80"/>
<path d="M289.2,777.7L302.3,770.0" stroke-width="0.92"/>
<circle cx="302.3" cy="770.0" r="0.9" fill="#fff" stroke-width="0.80"/>
<path d="M289.2,777.7L300.0,777.6" stroke-width="0.92"/>
<circle cx="300.0" cy="777.6" r="0.9" fill="#fff" stroke-width="0.80"/>
<path d="M289.2,777.7L294.8,785.3" stroke-width="0.92"/>
<circle cx="294.8" cy="785.3" r="0.9" fill="#fff" stroke-width="0.80"/>
<path d="M289.2,777.7L288.0,790.9" stroke-width="0.92"/>
<circle cx="288.0" cy="790.9" r="0.9" fill="#fff" stroke-width="0.80"/>
<path d="M289.2,777.7L281.6,793.0" stroke-width="0.92"/>
<circle cx="281.6" cy="793.0" r="0.9" fill="#fff" stroke-width="0.80"/>
<path d="M289.2,777.7L277.2,791.0" stroke-width="0.92"/>
<circle cx="277.2" cy="791.0" r="0.9" fill="#fff" stroke-width="0.80"/>
<path d="M289.2,777.7L276.0,785.4" stroke-width="0.92"/>
<circle cx="276.0" cy="785.4" r="0.9" fill="#fff" stroke-width="0.80"/>
<path d="M289.2,777.7L278.3,777.8" stroke-width="0.92"/>
<circle cx="278.3" cy="777.8" r="0.9" fill="#fff" stroke-width="0.80"/>
<path d="M289.2,777.7L283.5,770.1" stroke-width="0.92"/>
<circle cx="283.5" cy="770.1" r="0.9" fill="#fff" stroke-width="0.80"/>
<path d="M289.2,777.7L290.3,764.5" stroke-width="0.92"/>
<circle cx="290.3" cy="764.5" r="0.9" fill="#fff" stroke-width="0.80"/>
<path d="M289.2,777.7L296.7,762.4" stroke-width="0.92"/>
<circle cx="296.7" cy="762.4" r="0.9" fill="#fff" stroke-width="0.80"/>
<circle cx="307.3" cy="753.2" r="0.9" fill="#fff" stroke-width="0.80"/>
<circle cx="310.0" cy="759.8" r="0.9" fill="#fff" stroke-width="0.80"/>
<circle cx="308.6" cy="769.3" r="0.9" fill="#fff" stroke-width="0.80"/>
<circle cx="303.4" cy="780.1" r="0.9" fill="#fff" stroke-width="0.80"/>
<circle cx="295.3" cy="789.9" r="0.9" fill="#fff" stroke-width="0.80"/>
<circle cx="286.0" cy="796.7" r="0.9" fill="#fff" stroke-width="0.80"/>
<circle cx="277.4" cy="799.3" r="0.9" fill="#fff" stroke-width="0.80"/>
<circle cx="271.1" cy="797.2" r="0.9" fill="#fff" stroke-width="0.80"/>
<circle cx="268.4" cy="790.6" r="0.9" fill="#fff" stroke-width="0.80"/>
<circle cx="269.8" cy="781.1" r="0.9" fill="#fff" stroke-width="0.80"/>
<circle cx="275.0" cy="770.3" r="0.9" fill="#fff" stroke-width="0.80"/>
<circle cx="283.1" cy="760.5" r="0.9" fill="#fff" stroke-width="0.80"/>
<circle cx="292.4" cy="753.7" r="0.9" fill="#fff" stroke-width="0.80"/>
<circle cx="301.0" cy="751.1" r="0.9" fill="#fff" stroke-width="0.80"/>
<ellipse cx="289.2" cy="813.0" rx="4.2" ry="5.6" transform="rotate(-50 289.2 813.0)" fill="#ccc" stroke-width="1.15"/>
<ellipse cx="287.6" cy="811.6" rx="4.4" ry="6" transform="rotate(-50 287.6 811.6)" fill="#fff" stroke-width="1.26"/>
<ellipse cx="287.9" cy="811.9" rx="2.6" ry="3.8" transform="rotate(-50 287.6 811.6)" fill="#eee" stroke-width="0.92"/>
<ellipse cx="288.1" cy="812.1" rx="1.2" ry="2" transform="rotate(-50 287.6 811.6)" fill="#999" stroke-width="0.80"/>
<ellipse cx="169.3" cy="688.5" rx="30.6" ry="18.8" transform="rotate(-54.7 169.3 688.5)" fill="#fff" stroke-width="1.15"/>
<ellipse cx="170.9" cy="687.9" rx="30.4" ry="18.4" transform="rotate(-54.7 170.9 687.9)" fill="#fff" stroke-width="1.26"/>
<ellipse cx="170.9" cy="687.9" rx="26.4" ry="15" transform="rotate(-54.7 170.9 687.9)" fill="#fff" stroke-width="1.15"/>
<ellipse cx="172.3" cy="687.5" rx="25.2" ry="13.8" transform="rotate(-54.7 170.5 687.9)" stroke-width="1.03"/>
<path d="M164.5,664.5L169.5,668.0" stroke-width="3.60" stroke="#1c1c1c" stroke-linecap="round"/>
<path d="M164.5,664.5L169.5,668.0" stroke-width="1.70" stroke="#fff" stroke-linecap="round"/>
<path d="M174.9,671.2L180.4,675.0" stroke-width="3.60" stroke="#1c1c1c" stroke-linecap="round"/>
<path d="M174.9,671.2L180.4,675.0" stroke-width="1.70" stroke="#fff" stroke-linecap="round"/>
<path d="M189.2,669.0L197.4,673.0" stroke-width="3.60" stroke="#1c1c1c" stroke-linecap="round"/>
<path d="M189.2,669.0L197.4,673.0" stroke-width="1.70" stroke="#fff" stroke-linecap="round"/>
<path d="M148.7,687.9L162.5,696.2" stroke-width="3.60" stroke="#1c1c1c" stroke-linecap="round"/>
<path d="M148.7,687.9L162.5,696.2" stroke-width="1.70" stroke="#fff" stroke-linecap="round"/>
<path d="M182.9,682.5L198.9,689.9" stroke-width="3.60" stroke="#1c1c1c" stroke-linecap="round"/>
<path d="M182.9,682.5L198.9,689.9" stroke-width="1.70" stroke="#fff" stroke-linecap="round"/>
<path d="M168.0,703.9L182.4,713.7" stroke-width="3.60" stroke="#1c1c1c" stroke-linecap="round"/>
<path d="M168.0,703.9L182.4,713.7" stroke-width="1.70" stroke="#fff" stroke-linecap="round"/>
<path d="M156.5,712.4L165.0,717.4" stroke-width="3.60" stroke="#1c1c1c" stroke-linecap="round"/>
<path d="M156.5,712.4L165.0,717.4" stroke-width="1.70" stroke="#fff" stroke-linecap="round"/>
<path d="M168.3,380.5L408.3,518.5" stroke-width="1.03" stroke-dasharray="52 3 2.5 3" stroke-dashoffset="0" stroke-linecap="butt"/>
<path d="M408.3,518.5L408.3,497" stroke-width="1.03" stroke-dasharray="30 3 2.5 3" stroke-dashoffset="0" stroke-linecap="butt"/>
<path d="M168.3,380.5L168.3,424" stroke-width="1.03" stroke-dasharray="22 2.5 2 2.5" stroke-dashoffset="0" stroke-linecap="butt"/>
<path d="M168.3,442.5L168.3,474" stroke-width="1.03" stroke-dasharray="2 1.6" stroke-dashoffset="0" stroke-linecap="butt"/>
<path d="M150.5,468L160.5,504" stroke-width="1.03" stroke-dasharray="2.5 2" stroke-dashoffset="0" stroke-linecap="butt"/>
<path d="M181.2,507L203,610" stroke-width="1.03" stroke-dasharray="3 2.2" stroke-dashoffset="0" stroke-linecap="butt"/>
<path d="M203,610L209.5,640" stroke-width="1.03" stroke-dasharray="30 3 2 3" stroke-dashoffset="0" stroke-linecap="butt"/>
<path d="M218.7,514L218.7,593.5" stroke-width="1.03" stroke-dasharray="2.2 1.8" stroke-dashoffset="0" stroke-linecap="butt"/>
<path d="M218.7,593.5L263.5,571.5" stroke-width="1.03" stroke-dasharray="16 3 2.5 3" stroke-dashoffset="0" stroke-linecap="butt"/>
<path d="M263.5,568.5L263.5,600" stroke-width="1.03" stroke-dasharray="2.2 1.8" stroke-dashoffset="0" stroke-linecap="butt"/>
<path d="M485,488.5L491.6,526.5" stroke-width="1.03" stroke-dasharray="40 3 2 3" stroke-dashoffset="0" stroke-linecap="butt"/>
<path d="M494,540L496.5,560" stroke-width="1.03" stroke-dasharray="40 3 2 3" stroke-dashoffset="0" stroke-linecap="butt"/>
<path d="M215,667L224.3,706" stroke-width="1.03" stroke-dasharray="40 3 2 3" stroke-dashoffset="0" stroke-linecap="butt"/>
<path d="M158.5,715L283.5,810" stroke-width="1.03" stroke-dasharray="48 3 2.5 3" stroke-dashoffset="0" stroke-linecap="butt"/>
<path d="M527.8,638.6L604.4,680" stroke-width="1.03" stroke-dasharray="30 3 2.5 3" stroke-dashoffset="0" stroke-linecap="butt"/>
<path d="M358.5,644.5L372,652" stroke-width="1.03" stroke-dasharray="6 2 2 2" stroke-dashoffset="0" stroke-linecap="butt"/>
<path d="M97.7,819.2L110.8,798.2L113.8,803.9L134.6,791.6L136.7,809.2L115.5,820.8L114.4,828.3Z" stroke-width="1.26" fill="#fff" />
<path d="M134.6,791.6L137.5,793.3L138.2,808.3L136.7,809.2" stroke-width="1.15" fill="#fff" />
<path d="M100.3,818.9L112.5,800.1L113.8,803.9" stroke-width="1.03" fill="none" />
<path d="M110.8,798.2L113.0,799.7" stroke-width="1.03" fill="none" />
<path d="M114.4,828.3L115.5,826.8L115.5,820.8" stroke-width="1.03" fill="none" />
<text transform="translate(114.2,819.4) skewY(-30)" font-family="Liberation Sans, sans-serif" font-weight="bold" font-size="15" fill="#111" stroke="none" textLength="21" lengthAdjust="spacingAndGlyphs">FWD</text>
<path d="M130,102.7L155,108.3M126,143.3L149,129.9M428.6,261.4L438.1,273.1M461.3,245.9L468,259.5M538.9,241.8L514.4,245.9M536.2,276.6L517.1,269M185.5,350.5L199.1,331.6M213.3,366.6L222.4,349.1M248.6,388.3L252.9,364.1M268,400L268.2,377M109.3,413.3L131.7,414M489.3,373.3L472.7,386M360,446.7L379.3,461.7M536.7,515L510,523.3M430,550L424,573.3M558.3,556.7L543.3,583.3M352.7,617.3L354.7,636.7M396.7,633.3L380,643.3M599.4,660L613,665M592.9,696.2L607,690M300,586.7L286.7,601.7M103.3,600.7L121.7,581.7M261.7,655L236.7,650.7M148.3,738.3L155,715M207.3,790L231.7,774M241.7,816.7L265,800M270,833.3L285,817.7M533.8,813L532.8,798" stroke-width="1.03" fill="none" />
<path d="M191.6,88.6 Q198.8,91.5 197.4,99 L180.2,141.2 Q176.5,149.6 163.6,150.8" stroke-width="2.20" fill="none" />
<path d="M450.7,197.3 Q441.5,192.3 435.4,200.6 L381.3,299.5 Q375.6,308.5 381.8,315.2" stroke-width="2.40" fill="none" />
<path d="M209.5,308.5 Q212.5,302 219.5,303.1 L285,340.8 Q291.5,344.5 290,356.5" stroke-width="2.30" fill="none" />
<path d="M187.8,122.3L191.1,122.6L194.6,123.1L198.1,123.7L201.6,124.4L205.3,125.3L208.9,126.3L212.6,127.4L216.4,128.6L220.1,129.9L223.9,131.4L227.6,132.9L231.4,134.6L235.1,136.4L238.8,138.3L242.4,140.3L246.1,142.5L249.6,144.7L253.1,147.1L256.6,149.6L259.9,152.2L263.2,154.9L266.4,157.7L269.4,160.6L272.4,163.6L273.6,162.4L270.7,159.3L267.7,156.3L264.5,153.3L261.3,150.5L257.9,147.8L254.5,145.2L251.0,142.7L247.4,140.3L243.8,138.1L240.1,135.9L236.4,133.9L232.6,131.9L228.9,130.1L225.1,128.4L221.3,126.9L217.5,125.4L213.7,124.1L209.9,122.8L206.2,121.7L202.5,120.8L198.8,119.9L195.2,119.2L191.7,118.6L188.2,118.1Z" fill="#1c1c1c" stroke="none"/>
<path d="M277.5,167.5L270.7,164.4L274.4,160.7Z" fill="#1c1c1c" stroke="none"/>
<path d="M410.8,243.2L407.6,241.3L404.3,239.3L400.9,237.4L397.4,235.4L393.9,233.5L390.2,231.7L386.5,229.8L382.8,228.0L379.0,226.3L375.1,224.6L371.2,223.0L367.2,221.4L363.2,219.9L359.2,218.5L355.2,217.2L351.1,215.9L347.1,214.8L343.0,213.7L339.0,212.8L335.0,211.9L330.9,211.2L326.9,210.6L323.0,210.2L319.1,209.9L318.9,211.3L322.8,211.8L326.7,212.3L330.6,213.0L334.6,213.8L338.5,214.7L342.5,215.8L346.5,216.9L350.5,218.1L354.4,219.5L358.4,220.9L362.3,222.4L366.2,224.0L370.1,225.6L373.9,227.3L377.7,229.1L381.4,230.9L385.1,232.8L388.7,234.7L392.2,236.6L395.7,238.6L399.1,240.6L402.3,242.6L405.5,244.6L408.6,246.6Z" fill="#1c1c1c" stroke="none"/>
<path d="M313.5,210.2L321.7,208.1L321.3,213.5Z" fill="#1c1c1c" stroke="none"/>
<path d="M407.4,251.5L402.8,249.0L398.2,246.6L393.7,244.3L389.1,242.1L384.6,240.0L380.1,238.0L375.6,236.1L371.2,234.2L366.7,232.5L362.3,230.8L358.0,229.2L353.6,227.8L349.3,226.4L345.0,225.1L340.8,223.9L336.5,222.9L332.3,221.9L328.2,221.0L324.1,220.2L320.0,219.6L315.9,219.0L311.9,218.6L308.0,218.3L304.0,218.1L304.0,219.5L307.8,219.9L311.7,220.3L315.7,220.8L319.7,221.5L323.7,222.2L327.7,223.1L331.8,224.1L335.9,225.1L340.1,226.3L344.3,227.5L348.5,228.9L352.7,230.4L357.0,231.9L361.3,233.6L365.6,235.3L370.0,237.1L374.3,239.1L378.7,241.1L383.1,243.2L387.5,245.4L392.0,247.6L396.5,250.0L400.9,252.4L405.4,254.9Z" fill="#1c1c1c" stroke="none"/>
<path d="M298.0,218.4L306.2,216.3L305.8,221.7Z" fill="#1c1c1c" stroke="none"/>
<path d="M403.2,257.1L397.8,254.8L392.4,252.6L386.8,250.5L381.3,248.5L375.6,246.6L370.0,244.9L364.3,243.2L358.6,241.6L352.8,240.2L347.1,238.8L341.3,237.6L335.6,236.5L329.9,235.5L324.2,234.7L318.6,233.9L313.0,233.3L307.4,232.8L301.9,232.5L296.4,232.3L291.1,232.2L285.8,232.2L280.5,232.4L275.4,232.8L270.4,233.3L270.6,234.7L275.5,234.4L280.6,234.1L285.8,234.1L291.0,234.1L296.4,234.3L301.7,234.6L307.2,235.1L312.7,235.6L318.3,236.3L323.8,237.2L329.5,238.1L335.1,239.2L340.8,240.4L346.4,241.7L352.1,243.1L357.7,244.7L363.3,246.3L369.0,248.1L374.5,249.9L380.1,251.9L385.5,254.0L390.9,256.1L396.3,258.4L401.6,260.7Z" fill="#1c1c1c" stroke="none"/>
<path d="M264.6,234.6L272.3,231.1L272.8,236.4Z" fill="#1c1c1c" stroke="none"/>
<path d="M398.7,264.7L392.6,262.5L386.4,260.4L380.0,258.4L373.6,256.6L367.1,254.8L360.5,253.2L353.9,251.7L347.2,250.4L340.5,249.2L333.8,248.1L327.0,247.1L320.2,246.3L313.5,245.6L306.7,245.0L300.0,244.6L293.3,244.3L286.7,244.1L280.1,244.1L273.6,244.2L267.1,244.4L260.8,244.8L254.5,245.3L248.4,246.0L242.4,246.8L242.6,248.2L248.6,247.6L254.7,247.0L260.9,246.6L267.2,246.3L273.6,246.2L280.1,246.2L286.6,246.3L293.2,246.6L299.8,247.0L306.5,247.5L313.2,248.2L319.9,249.0L326.6,249.9L333.3,251.0L340.0,252.2L346.6,253.5L353.2,254.9L359.7,256.5L366.2,258.2L372.6,260.0L378.9,261.9L385.2,264.0L391.3,266.2L397.3,268.5Z" fill="#1c1c1c" stroke="none"/>
<path d="M236.4,248.5L243.9,244.6L244.7,249.9Z" fill="#1c1c1c" stroke="none"/>
<path d="M255.4,322.0L255.3,319.0L255.2,316.0L255.1,313.1L254.8,310.3L254.5,307.5L254.2,304.7L253.7,302.1L253.2,299.4L252.7,296.9L252.0,294.3L251.3,291.9L250.4,289.5L249.5,287.1L248.5,284.9L247.4,282.7L246.2,280.5L244.8,278.4L243.4,276.4L241.9,274.5L240.2,272.6L238.5,270.8L236.6,269.1L234.6,267.4L232.5,265.9L231.5,267.1L233.5,268.8L235.4,270.4L237.1,272.2L238.7,274.0L240.2,275.8L241.6,277.7L242.9,279.7L244.1,281.7L245.2,283.8L246.1,285.9L247.0,288.1L247.8,290.4L248.5,292.7L249.1,295.1L249.6,297.5L250.1,300.0L250.5,302.6L250.8,305.2L251.1,307.8L251.2,310.6L251.4,313.3L251.4,316.2L251.4,319.1L251.4,322.0Z" fill="#1c1c1c" stroke="none"/>
<path d="M228.0,263.8L235.7,265.8L232.7,270.2Z" fill="#1c1c1c" stroke="none"/>
<g font-family="Liberation Sans, sans-serif" fill="#111" stroke="none">
<text x="108.5" y="104.2" font-size="13" textLength="17.9" lengthAdjust="spacingAndGlyphs">23</text>
<text x="108.5" y="151.2" font-size="13" textLength="17.9" lengthAdjust="spacingAndGlyphs">22</text>
<text x="416.5" y="259.2" font-size="13" textLength="17.9" lengthAdjust="spacingAndGlyphs">24</text>
<text x="451.2" y="243.8" font-size="13" textLength="17.9" lengthAdjust="spacingAndGlyphs">21</text>
<text x="541.1" y="244.6" font-size="13" textLength="17.9" lengthAdjust="spacingAndGlyphs">20</text>
<text x="539.2" y="283.2" font-size="13" textLength="17.9" lengthAdjust="spacingAndGlyphs">19</text>
<text x="171.2" y="363.4" font-size="13" textLength="17.9" lengthAdjust="spacingAndGlyphs">25</text>
<text x="200.5" y="378.2" font-size="13" textLength="17.9" lengthAdjust="spacingAndGlyphs">16</text>
<text x="237.8" y="399.4" font-size="13" textLength="17.9" lengthAdjust="spacingAndGlyphs">17</text>
<text x="259.5" y="410.2" font-size="13" textLength="17.9" lengthAdjust="spacingAndGlyphs">18</text>
<text x="99" y="417.2" font-size="13" textLength="9.2" lengthAdjust="spacingAndGlyphs">8</text>
<text x="491.7" y="375" font-size="13" textLength="9.6" lengthAdjust="spacingAndGlyphs">6</text>
<text x="350.5" y="448.3" font-size="13" textLength="9.2" lengthAdjust="spacingAndGlyphs">7</text>
<text x="540.7" y="516.7" font-size="13" textLength="9.2" lengthAdjust="spacingAndGlyphs">8</text>
<text x="430" y="548.3" font-size="13" textLength="9.2" lengthAdjust="spacingAndGlyphs">3</text>
<text x="557" y="556" font-size="13" textLength="7.699999999999999" lengthAdjust="spacingAndGlyphs">1</text>
<text x="350" y="615.7" font-size="13" textLength="9.2" lengthAdjust="spacingAndGlyphs">5</text>
<text x="396.7" y="635.7" font-size="13" textLength="9.5" lengthAdjust="spacingAndGlyphs">4</text>
<text x="589.5" y="661.7" font-size="13" textLength="9.2" lengthAdjust="spacingAndGlyphs">5</text>
<text x="583.5" y="704" font-size="13" textLength="9.5" lengthAdjust="spacingAndGlyphs">4</text>
<text x="296.2" y="584" font-size="13" textLength="17.9" lengthAdjust="spacingAndGlyphs">10</text>
<text x="90.7" y="612" font-size="13" textLength="9.2" lengthAdjust="spacingAndGlyphs">9</text>
<text x="261.2" y="660.8" font-size="13" textLength="17.9" lengthAdjust="spacingAndGlyphs">12</text>
<text x="138.8" y="750.8" font-size="13" textLength="17.9" lengthAdjust="spacingAndGlyphs">14</text>
<text x="189.5" y="798.4" font-size="13" textLength="16.5" lengthAdjust="spacingAndGlyphs">11</text>
<text x="224.5" y="824.4" font-size="13" textLength="17.9" lengthAdjust="spacingAndGlyphs">13</text>
<text x="252.8" y="844.2" font-size="13" textLength="17.9" lengthAdjust="spacingAndGlyphs">15</text>
<text x="534.3" y="825" font-size="13" textLength="9.2" lengthAdjust="spacingAndGlyphs">2</text>
<text x="77" y="849.5" font-size="11.2" textLength="96.5" lengthAdjust="spacingAndGlyphs">F4N1100-W300</text>
</g>
<clipPath id="wmclip"><rect x="0" y="440" width="630.4" height="40"/></clipPath>
<g clip-path="url(#wmclip)" style="mix-blend-mode:multiply" stroke="#c6c6c6" stroke-width="2.35" fill="none" stroke-linecap="square" stroke-linejoin="miter"><path transform="translate(31.00,453.00)" d="M0,10.3V0H7.1V5.1H0"/><path transform="translate(42.20,453.00)" d="M0,10.3V0H7.1V5.1H0M3.2,5.1L7.1,10.3"/><path transform="translate(53.40,453.00)" d="M0,0H7.1V10.3H0Z"/><path transform="translate(64.00,453.00)" d="M0,10.3V0H8.2V10.3M4.1,0V10.3"/><path transform="translate(76.00,453.00)" d="M0,0H7.1V10.3H0Z"/><path transform="translate(89.20,453.00)" d="M0.2,5.5H1.6"/><path transform="translate(95.00,453.00)" d="M0,7V10.3H7.1V0"/><path transform="translate(106.00,453.00)" d="M7.1,0H0V10.3H7.1M0,5.1H5.2"/><path transform="translate(116.80,453.00)" d="M0,0H7.1M3.55,0V10.3"/><path transform="translate(127.80,453.00)" d="M7.1,0H0V5.1H7.1V10.3H0"/><path transform="translate(139.00,453.00)" d="M0,0V10.3M7.1,0L0.8,5.1L7.1,10.3"/><path transform="translate(151.90,453.00)" d="M0,0V10.3"/><path transform="translate(156.00,453.00)" d="M0,9.9V10.3"/><path transform="translate(159.40,453.00)" d="M7.1,0H0V10.3H7.1"/><path transform="translate(169.80,453.00)" d="M0,0H7.1V10.3H0Z"/><path transform="translate(180.20,453.00)" d="M0,10.3V0H8.2V10.3M4.1,0V10.3"/><path transform="translate(207.30,450.70)" d="M0,10.3V0H7.1V5.1H0"/><path transform="translate(218.50,450.70)" d="M0,10.3V0H7.1V5.1H0M3.2,5.1L7.1,10.3"/><path transform="translate(229.70,450.70)" d="M0,0H7.1V10.3H0Z"/><path transform="translate(240.30,450.70)" d="M0,10.3V0H8.2V10.3M4.1,0V10.3"/><path transform="translate(252.30,450.70)" d="M0,0H7.1V10.3H0Z"/><path transform="translate(265.50,450.70)" d="M0.2,5.5H1.6"/><path transform="translate(271.30,450.70)" d="M0,7V10.3H7.1V0"/><path transform="translate(282.30,450.70)" d="M7.1,0H0V10.3H7.1M0,5.1H5.2"/><path transform="translate(293.10,450.70)" d="M0,0H7.1M3.55,0V10.3"/><path transform="translate(304.10,450.70)" d="M7.1,0H0V5.1H7.1V10.3H0"/><path transform="translate(315.30,450.70)" d="M0,0V10.3M7.1,0L0.8,5.1L7.1,10.3"/><path transform="translate(328.20,450.70)" d="M0,0V10.3"/><path transform="translate(332.30,450.70)" d="M0,9.9V10.3"/><path transform="translate(335.70,450.70)" d="M7.1,0H0V10.3H7.1"/><path transform="translate(346.10,450.70)" d="M0,0H7.1V10.3H0Z"/><path transform="translate(356.50,450.70)" d="M0,10.3V0H8.2V10.3M4.1,0V10.3"/><path transform="translate(383.00,449.70)" d="M0,10.3V0H7.1V5.1H0"/><path transform="translate(394.20,449.70)" d="M0,10.3V0H7.1V5.1H0M3.2,5.1L7.1,10.3"/><path transform="translate(405.40,449.70)" d="M0,0H7.1V10.3H0Z"/><path transform="translate(416.00,449.70)" d="M0,10.3V0H8.2V10.3M4.1,0V10.3"/><path transform="translate(428.00,449.70)" d="M0,0H7.1V10.3H0Z"/><path transform="translate(441.20,449.70)" d="M0.2,5.5H1.6"/><path transform="translate(447.00,449.70)" d="M0,7V10.3H7.1V0"/><path transform="translate(458.00,449.70)" d="M7.1,0H0V10.3H7.1M0,5.1H5.2"/><path transform="translate(468.80,449.70)" d="M0,0H7.1M3.55,0V10.3"/><path transform="translate(479.80,449.70)" d="M7.1,0H0V5.1H7.1V10.3H0"/><path transform="translate(491.00,449.70)" d="M0,0V10.3M7.1,0L0.8,5.1L7.1,10.3"/><path transform="translate(503.90,449.70)" d="M0,0V10.3"/><path transform="translate(508.00,449.70)" d="M0,9.9V10.3"/><path transform="translate(511.40,449.70)" d="M7.1,0H0V10.3H7.1"/><path transform="translate(521.80,449.70)" d="M0,0H7.1V10.3H0Z"/><path transform="translate(532.20,449.70)" d="M0,10.3V0H8.2V10.3M4.1,0V10.3"/><path transform="translate(562.80,449.00)" d="M0,10.3V0H7.1V5.1H0"/><path transform="translate(574.00,449.00)" d="M0,10.3V0H7.1V5.1H0M3.2,5.1L7.1,10.3"/><path transform="translate(585.20,449.00)" d="M0,0H7.1V10.3H0Z"/><path transform="translate(595.80,449.00)" d="M0,10.3V0H8.2V10.3M4.1,0V10.3"/><path transform="translate(607.80,449.00)" d="M0,0H7.1V10.3H0Z"/><path transform="translate(621.00,449.00)" d="M0.2,5.5H1.6"/><path transform="translate(626.80,449.00)" d="M0,7V10.3H7.1V0"/><path transform="translate(637.80,449.00)" d="M7.1,0H0V10.3H7.1M0,5.1H5.2"/><path transform="translate(648.60,449.00)" d="M0,0H7.1M3.55,0V10.3"/><path transform="translate(659.60,449.00)" d="M7.1,0H0V5.1H7.1V10.3H0"/><path transform="translate(670.80,449.00)" d="M0,0V10.3M7.1,0L0.8,5.1L7.1,10.3"/><path transform="translate(683.70,449.00)" d="M0,0V10.3"/><path transform="translate(687.80,449.00)" d="M0,9.9V10.3"/><path transform="translate(691.20,449.00)" d="M7.1,0H0V10.3H7.1"/><path transform="translate(701.60,449.00)" d="M0,0H7.1V10.3H0Z"/><path transform="translate(712.00,449.00)" d="M0,10.3V0H8.2V10.3M4.1,0V10.3"/></g>
</svg>
</body></html>
